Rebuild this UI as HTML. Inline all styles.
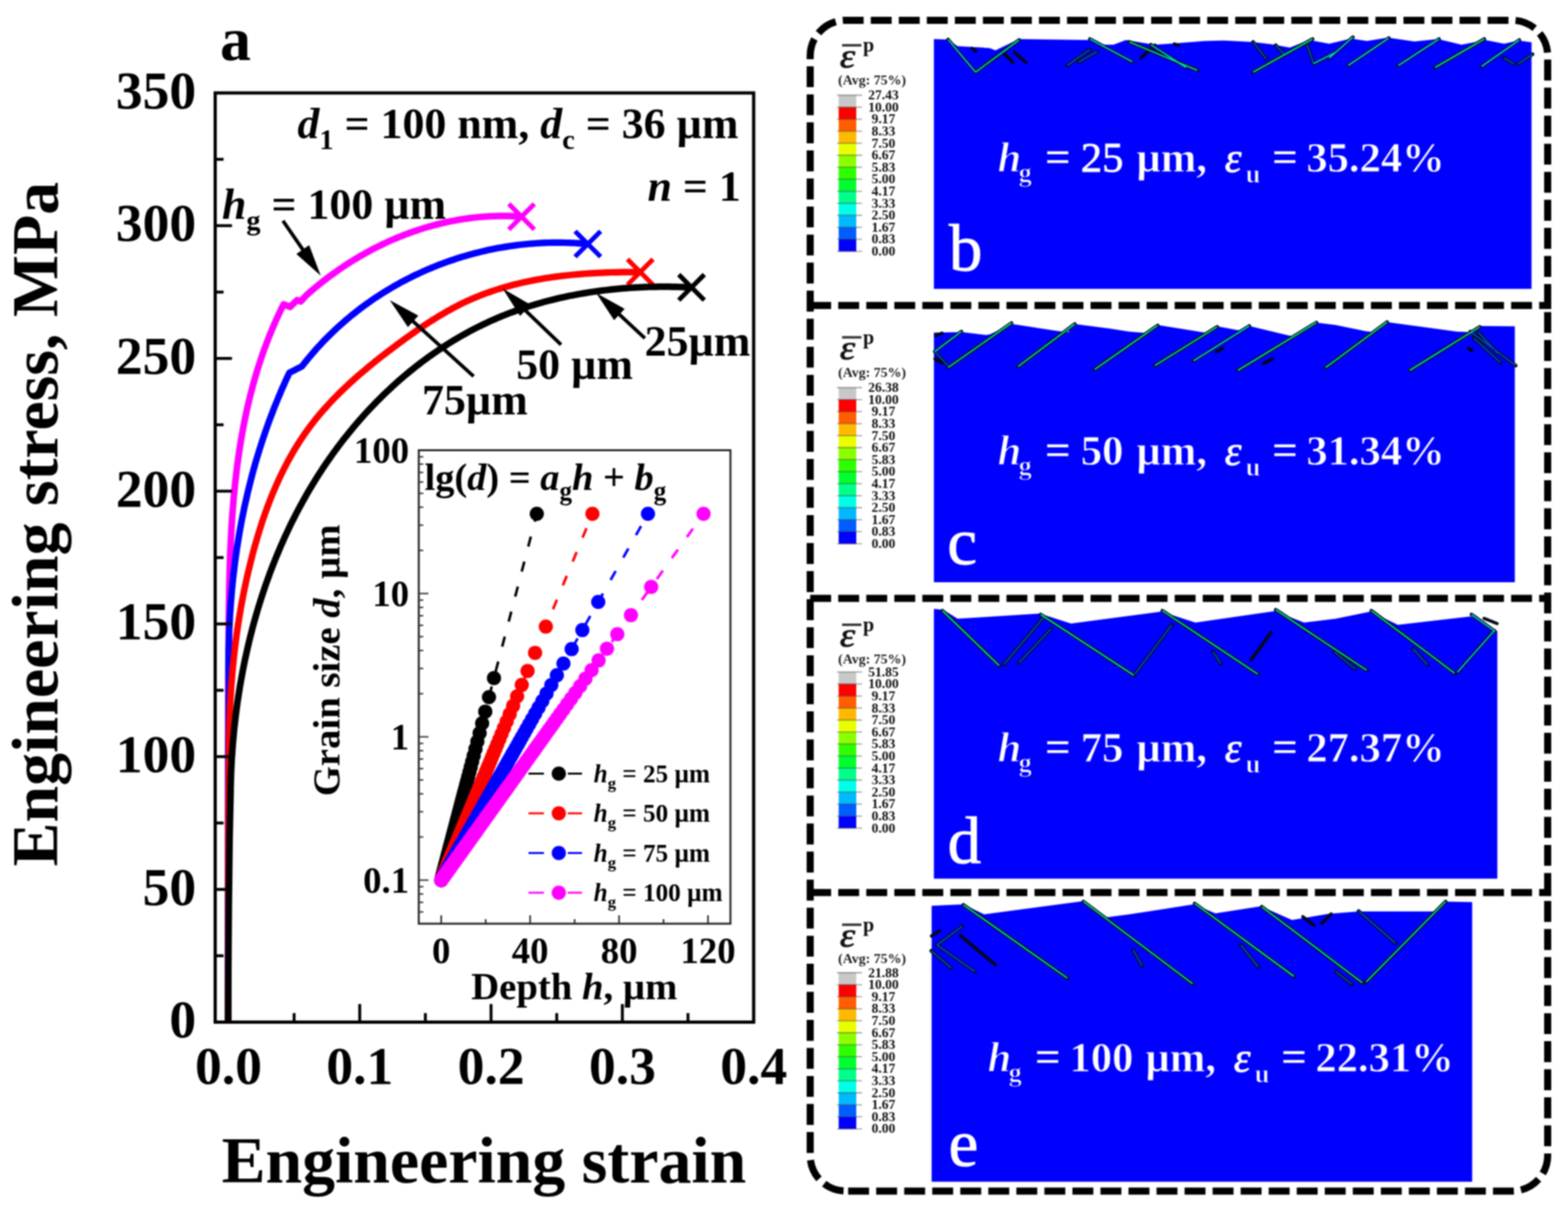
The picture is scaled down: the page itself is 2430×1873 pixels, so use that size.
<!DOCTYPE html>
<html><head><meta charset="utf-8"><title>Figure</title>
<style>html,body{margin:0;padding:0;background:#fff;}svg{display:block;}text{font-family:"Liberation Serif",serif;}</style>
</head><body>
<svg xmlns="http://www.w3.org/2000/svg" width="2430" height="1873" viewBox="0 0 2430 1873">
<rect width="2430" height="1873" fill="#fff"/>
<defs><filter id="soft" color-interpolation-filters="sRGB" filterUnits="userSpaceOnUse" x="0" y="0" width="2430" height="1873"><feGaussianBlur stdDeviation="0.9"/></filter></defs>
<g filter="url(#soft)">
<rect x="-20" y="-20" width="2470" height="1913" fill="#fff"/>
<path d="M353.6,1583.0 L353.6,1200.0 L353.8,1050.0 L354.5,990.0 L354.5,985.1 L354.5,980.1 L354.6,975.1 L354.6,970.2 L354.6,965.2 L354.7,960.3 L354.7,955.3 L354.8,950.3 L354.8,945.3 L354.9,940.3 L354.9,935.3 L355.0,930.4 L355.1,925.4 L355.1,920.4 L355.2,915.4 L355.3,910.4 L355.4,905.4 L355.5,900.3 L355.7,895.3 L355.8,890.3 L355.9,885.3 L356.1,880.3 L356.2,875.3 L356.4,870.3 L356.5,865.2 L356.7,860.2 L356.9,855.2 L357.1,850.2 L357.4,845.2 L357.6,840.1 L357.8,835.1 L358.1,830.1 L358.4,825.1 L358.6,820.0 L358.9,815.0 L359.3,810.0 L359.6,805.0 L359.9,800.0 L360.3,795.0 L360.7,789.9 L361.1,784.9 L361.5,779.9 L361.9,774.9 L362.3,769.9 L362.8,764.9 L363.3,759.9 L363.8,754.9 L364.3,749.9 L364.8,744.9 L365.4,739.9 L366.0,735.0 L366.6,730.0 L367.2,725.0 L367.8,720.0 L368.5,715.1 L369.2,710.1 L369.9,705.1 L370.6,700.2 L371.4,695.2 L372.1,690.3 L372.9,685.3 L373.8,680.4 L374.6,675.5 L375.5,670.6 L376.4,665.7 L377.3,660.7 L378.3,655.8 L379.2,650.9 L380.2,646.1 L381.3,641.2 L382.3,636.3 L383.4,631.4 L384.5,626.6 L385.7,621.7 L386.8,616.9 L388.0,612.0 L389.3,607.2 L390.5,602.4 L391.8,597.6 L393.1,592.8 L394.5,588.0 L395.9,583.2 L397.3,578.4 L398.7,573.6 L400.2,568.9 L401.7,564.1 L403.3,559.4 L404.9,554.7 L406.5,549.9 L408.1,545.2 L409.8,540.5 L411.5,535.9 L413.3,531.2 L415.1,526.5 L416.9,521.9 L418.8,517.2 L420.7,512.6 L422.6,508.0 L424.6,503.4 L426.6,498.8 L428.6,494.2 L430.7,489.6 L432.9,485.1 L435.0,480.5 L437.2,476.0 L439.5,471.5 L449.5,475.5 L460.5,464.8 L466.0,467.0 L474.2,458.0 L478.0,454.7 L481.7,451.4 L485.5,448.1 L489.4,444.9 L493.3,441.7 L497.2,438.6 L501.1,435.5 L505.1,432.4 L509.1,429.4 L513.1,426.4 L517.2,423.5 L521.3,420.6 L525.4,417.7 L529.5,414.9 L533.7,412.1 L537.9,409.3 L542.1,406.6 L546.4,404.0 L550.6,401.4 L554.9,398.8 L559.3,396.3 L563.6,393.8 L568.0,391.3 L572.4,388.9 L576.8,386.6 L581.2,384.3 L585.7,382.0 L590.2,379.8 L594.7,377.6 L599.2,375.5 L603.8,373.4 L608.3,371.4 L612.9,369.5 L617.5,367.5 L622.2,365.7 L626.8,363.8 L631.5,362.1 L636.2,360.3 L640.9,358.7 L645.6,357.1 L650.3,355.5 L655.1,354.0 L659.9,352.5 L664.6,351.1 L669.4,349.8 L674.2,348.5 L679.1,347.2 L683.9,346.0 L688.8,344.9 L693.6,343.8 L698.5,342.8 L703.4,341.9 L708.3,341.0 L713.2,340.1 L718.2,339.3 L723.1,338.6 L728.1,337.9 L733.0,337.3 L738.0,336.8 L743.0,336.3 L747.9,335.9 L752.9,335.5 L757.9,335.2 L763.0,335.0 L768.0,334.8 L773.0,334.7 L778.0,334.6 L783.1,334.6 L788.1,334.7 L793.1,334.9 L798.2,335.1 L803.2,335.4 L808.3,335.7" fill="none" stroke="#ff00ff" stroke-width="10.2" stroke-linejoin="round"/>
<path d="M788.5,315.9 L828.0999999999999,355.5 M788.5,355.5 L828.0999999999999,315.9" stroke="#ff00ff" stroke-width="7.2" fill="none"/>
<path d="M353.6,1583.0 L353.7,1300.0 L354.0,1150.0 L354.6,1060.0 L354.5,1055.0 L354.4,1050.0 L354.3,1044.9 L354.3,1039.9 L354.2,1034.9 L354.2,1029.9 L354.2,1024.8 L354.2,1019.8 L354.3,1014.8 L354.3,1009.8 L354.4,1004.8 L354.5,999.7 L354.7,994.7 L354.8,989.7 L355.0,984.7 L355.1,979.7 L355.3,974.7 L355.6,969.7 L355.8,964.6 L356.1,959.6 L356.3,954.6 L356.6,949.6 L357.0,944.6 L357.3,939.6 L357.7,934.6 L358.1,929.6 L358.5,924.6 L358.9,919.6 L359.3,914.6 L359.8,909.7 L360.3,904.7 L360.8,899.7 L361.3,894.7 L361.9,889.7 L362.5,884.8 L363.1,879.8 L363.7,874.8 L364.3,869.9 L365.0,864.9 L365.7,859.9 L366.4,855.0 L367.1,850.0 L367.9,845.1 L368.7,840.2 L369.5,835.2 L370.3,830.3 L371.1,825.4 L372.0,820.4 L372.9,815.5 L373.8,810.6 L374.7,805.7 L375.7,800.8 L376.7,795.9 L377.7,791.0 L378.7,786.1 L379.8,781.2 L380.9,776.3 L382.0,771.5 L383.1,766.6 L384.2,761.7 L385.4,756.9 L386.6,752.0 L387.8,747.2 L389.1,742.3 L390.3,737.5 L391.6,732.7 L392.9,727.8 L394.3,723.0 L395.6,718.2 L397.0,713.4 L398.4,708.6 L399.9,703.8 L401.4,699.0 L402.8,694.3 L404.4,689.5 L405.9,684.7 L407.5,680.0 L409.1,675.2 L410.7,670.5 L412.3,665.8 L414.0,661.1 L415.7,656.3 L417.4,651.6 L419.1,646.9 L420.9,642.3 L422.7,637.6 L424.5,632.9 L426.4,628.2 L428.3,623.6 L430.2,618.9 L432.1,614.3 L434.1,609.7 L436.0,605.0 L438.0,600.4 L440.1,595.8 L442.1,591.2 L444.2,586.6 L446.4,582.1 L448.5,577.5 L468.0,567.5 L471.1,563.5 L474.3,559.5 L477.5,555.6 L480.8,551.7 L484.0,547.8 L487.4,544.0 L490.7,540.2 L494.1,536.4 L497.6,532.7 L501.0,529.1 L504.6,525.4 L508.1,521.9 L511.7,518.3 L515.3,514.8 L519.0,511.3 L522.6,507.9 L526.4,504.5 L530.1,501.2 L533.9,497.9 L537.7,494.6 L541.6,491.4 L545.4,488.2 L549.4,485.1 L553.3,482.0 L557.3,478.9 L561.3,475.9 L565.3,472.9 L569.4,470.0 L573.5,467.1 L577.6,464.2 L581.7,461.4 L585.9,458.7 L590.1,456.0 L594.3,453.3 L598.6,450.7 L602.9,448.1 L607.2,445.5 L611.5,443.0 L615.9,440.6 L620.2,438.1 L624.6,435.8 L629.1,433.4 L633.5,431.2 L638.0,428.9 L642.5,426.7 L647.0,424.6 L651.5,422.5 L656.1,420.4 L660.6,418.4 L665.2,416.4 L669.9,414.5 L674.5,412.6 L679.1,410.8 L683.8,409.0 L688.5,407.2 L693.2,405.5 L697.9,403.9 L702.7,402.3 L707.4,400.7 L712.2,399.2 L717.0,397.7 L721.8,396.3 L726.6,394.9 L731.4,393.6 L736.3,392.3 L741.1,391.1 L746.0,389.9 L750.9,388.7 L755.8,387.6 L760.7,386.6 L765.6,385.6 L770.5,384.6 L775.4,383.7 L780.4,382.9 L785.3,382.1 L790.3,381.3 L795.3,380.6 L800.3,379.9 L805.2,379.3 L810.2,378.8 L815.2,378.3 L820.2,377.8 L825.3,377.4 L830.3,377.0 L835.3,376.7 L840.3,376.4 L845.4,376.2 L850.4,376.0 L855.4,375.9 L860.5,375.9 L865.5,375.9 L870.6,375.9 L875.6,376.0 L880.7,376.1 L885.7,376.3 L890.8,376.5 L895.8,376.8 L900.9,377.2 L905.9,377.6 L911.0,378.0" fill="none" stroke="#0000ff" stroke-width="10.2" stroke-linejoin="round"/>
<path d="M891.2,358.2 L930.8,397.8 M891.2,397.8 L930.8,358.2" stroke="#0000ff" stroke-width="7.2" fill="none"/>
<path d="M353.6,1583.0 L353.8,1400.0 L354.3,1250.0 L355.0,1160.0 L355.0,1155.0 L355.0,1150.0 L355.1,1145.1 L355.1,1140.1 L355.2,1135.1 L355.3,1130.1 L355.4,1125.1 L355.6,1120.1 L355.7,1115.1 L355.9,1110.1 L356.1,1105.1 L356.3,1100.1 L356.5,1095.1 L356.7,1090.1 L357.0,1085.1 L357.3,1080.2 L357.6,1075.2 L357.9,1070.2 L358.2,1065.2 L358.6,1060.2 L359.0,1055.2 L359.4,1050.2 L359.8,1045.2 L360.2,1040.2 L360.7,1035.2 L361.2,1030.2 L361.7,1025.2 L362.2,1020.3 L362.7,1015.3 L363.3,1010.3 L363.9,1005.3 L364.5,1000.3 L365.1,995.4 L365.8,990.4 L366.4,985.4 L367.1,980.5 L367.8,975.5 L368.6,970.5 L369.3,965.6 L370.1,960.6 L370.9,955.7 L371.7,950.7 L372.6,945.8 L373.4,940.8 L374.3,935.9 L375.2,931.0 L376.2,926.0 L377.1,921.1 L378.1,916.2 L379.1,911.3 L380.2,906.4 L381.2,901.4 L382.3,896.5 L383.4,891.6 L384.5,886.8 L385.7,881.9 L386.9,877.0 L388.1,872.1 L389.3,867.2 L390.5,862.4 L391.8,857.5 L393.1,852.7 L394.4,847.8 L395.8,843.0 L397.2,838.2 L398.6,833.3 L400.0,828.5 L401.5,823.7 L403.0,819.0 L404.5,814.2 L406.0,809.4 L407.6,804.7 L409.3,799.9 L410.9,795.2 L412.6,790.5 L414.3,785.8 L416.1,781.1 L417.8,776.5 L419.7,771.8 L421.5,767.2 L423.4,762.6 L425.4,758.0 L427.3,753.5 L429.4,748.9 L431.4,744.4 L433.5,739.9 L435.6,735.4 L437.8,730.9 L440.0,726.5 L442.3,722.1 L444.6,717.7 L446.9,713.4 L449.3,709.0 L451.7,704.7 L454.2,700.4 L456.7,696.2 L459.3,692.0 L461.9,687.8 L464.6,683.6 L467.3,679.5 L470.0,675.4 L472.8,671.3 L475.7,667.3 L478.6,663.3 L481.6,659.3 L484.6,655.4 L487.6,651.5 L490.7,647.6 L493.9,643.8 L497.1,640.0 L500.4,636.2 L503.7,632.5 L507.0,628.8 L510.4,625.1 L513.8,621.4 L517.3,617.8 L520.8,614.2 L524.3,610.7 L527.9,607.1 L531.5,603.6 L535.1,600.2 L538.8,596.7 L542.5,593.3 L546.3,589.9 L550.0,586.5 L553.8,583.2 L557.6,579.9 L561.5,576.6 L565.4,573.3 L569.2,570.1 L573.2,566.8 L577.1,563.6 L581.0,560.4 L585.0,557.3 L589.0,554.1 L593.0,551.0 L597.0,547.9 L601.0,544.8 L605.0,541.8 L609.1,538.7 L613.1,535.7 L617.2,532.7 L621.3,529.7 L625.3,526.7 L629.4,523.7 L633.5,520.8 L637.6,517.9 L641.7,515.0 L645.8,512.1 L649.9,509.3 L654.1,506.5 L658.2,503.7 L662.4,501.0 L666.6,498.3 L670.8,495.6 L675.0,493.0 L679.2,490.4 L683.5,487.8 L687.8,485.3 L692.0,482.8 L696.4,480.4 L700.7,478.0 L705.1,475.7 L709.4,473.4 L713.9,471.2 L718.3,469.0 L722.8,466.9 L727.3,464.9 L731.8,462.9 L736.3,461.0 L740.9,459.1 L745.5,457.3 L750.1,455.5 L754.8,453.8 L759.5,452.1 L764.2,450.5 L768.9,449.0 L773.6,447.5 L778.4,446.1 L783.2,444.7 L788.0,443.3 L792.8,442.0 L797.6,440.8 L802.5,439.6 L807.4,438.4 L812.3,437.3 L817.2,436.3 L822.1,435.2 L827.0,434.3 L831.9,433.3 L836.9,432.5 L841.9,431.6 L846.8,430.8 L851.8,430.0 L856.8,429.3 L861.8,428.6 L866.8,428.0 L871.8,427.4 L876.9,426.8 L881.9,426.2 L886.9,425.7 L891.9,425.2 L897.0,424.8 L902.0,424.4 L907.0,424.0 L912.1,423.7 L917.1,423.3 L922.1,423.1 L927.2,422.8 L932.2,422.6 L937.2,422.4 L942.2,422.2 L947.3,422.0 L952.3,421.9 L957.3,421.8 L962.3,421.7 L967.2,421.6 L972.2,421.6 L977.2,421.6 L982.1,421.6 L987.1,421.6 L992.0,421.6" fill="none" stroke="#ff0000" stroke-width="10.2" stroke-linejoin="round"/>
<path d="M972.4000000000001,401.59999999999997 L1012.0,441.2 M972.4000000000001,441.2 L1012.0,401.59999999999997" stroke="#ff0000" stroke-width="7.2" fill="none"/>
<path d="M353.6,1583.0 L353.9,1500.0 L354.6,1400.0 L355.8,1300.0 L357.3,1230.0 L357.4,1225.1 L357.4,1220.1 L357.6,1215.2 L357.7,1210.2 L357.8,1205.3 L358.0,1200.3 L358.2,1195.4 L358.4,1190.4 L358.7,1185.5 L358.9,1180.5 L359.2,1175.5 L359.5,1170.6 L359.9,1165.6 L360.2,1160.6 L360.6,1155.7 L361.0,1150.7 L361.4,1145.7 L361.9,1140.8 L362.3,1135.8 L362.8,1130.8 L363.3,1125.8 L363.9,1120.9 L364.4,1115.9 L365.0,1110.9 L365.6,1106.0 L366.3,1101.0 L366.9,1096.0 L367.6,1091.1 L368.3,1086.1 L369.1,1081.1 L369.8,1076.2 L370.6,1071.2 L371.4,1066.3 L372.2,1061.3 L373.1,1056.4 L374.0,1051.4 L374.9,1046.5 L375.8,1041.5 L376.7,1036.6 L377.7,1031.7 L378.7,1026.7 L379.7,1021.8 L380.8,1016.9 L381.9,1012.0 L383.0,1007.1 L384.1,1002.2 L385.2,997.3 L386.4,992.4 L387.6,987.5 L388.8,982.7 L390.1,977.8 L391.3,972.9 L392.6,968.1 L394.0,963.2 L395.3,958.4 L396.7,953.5 L398.1,948.7 L399.5,943.9 L401.0,939.1 L402.5,934.3 L404.0,929.5 L405.5,924.7 L407.1,919.9 L408.7,915.2 L410.3,910.4 L411.9,905.7 L413.6,900.9 L415.3,896.2 L417.0,891.5 L418.7,886.8 L420.5,882.1 L422.3,877.4 L424.1,872.7 L426.0,868.1 L427.9,863.4 L429.8,858.8 L431.7,854.2 L433.7,849.5 L435.6,844.9 L437.7,840.4 L439.7,835.8 L441.8,831.2 L443.9,826.7 L446.0,822.1 L448.1,817.6 L450.3,813.1 L452.5,808.6 L454.8,804.1 L457.0,799.7 L459.3,795.2 L461.6,790.8 L464.0,786.4 L466.4,782.0 L468.8,777.6 L471.2,773.2 L473.6,768.9 L476.1,764.5 L478.7,760.2 L481.2,755.9 L483.8,751.6 L486.4,747.3 L489.0,743.1 L491.7,738.8 L494.4,734.6 L497.1,730.4 L499.8,726.2 L502.6,722.1 L505.4,717.9 L508.2,713.8 L511.1,709.7 L514.0,705.6 L516.9,701.5 L519.9,697.5 L522.8,693.5 L525.8,689.5 L528.9,685.5 L531.9,681.5 L535.0,677.6 L538.2,673.7 L541.3,669.8 L544.5,665.9 L547.7,662.0 L550.9,658.2 L554.2,654.4 L557.5,650.6 L560.8,646.9 L564.1,643.1 L567.5,639.4 L570.9,635.8 L574.3,632.1 L577.8,628.5 L581.3,624.9 L584.8,621.3 L588.3,617.8 L591.8,614.2 L595.4,610.8 L599.0,607.3 L602.7,603.9 L606.3,600.5 L610.0,597.1 L613.7,593.7 L617.4,590.4 L621.2,587.1 L625.0,583.9 L628.8,580.7 L632.6,577.5 L636.5,574.3 L640.4,571.2 L644.3,568.1 L648.2,565.1 L652.1,562.0 L656.1,559.0 L660.1,556.1 L664.1,553.1 L668.2,550.3 L672.3,547.4 L676.4,544.6 L680.5,541.8 L684.6,539.1 L688.8,536.3 L693.0,533.7 L697.2,531.0 L701.4,528.4 L705.6,525.9 L709.9,523.3 L714.2,520.9 L718.5,518.4 L722.9,516.0 L727.2,513.6 L731.6,511.3 L736.0,509.0 L740.4,506.8 L744.9,504.6 L749.3,502.4 L753.8,500.3 L758.3,498.2 L762.8,496.2 L767.4,494.2 L771.9,492.2 L776.5,490.3 L781.1,488.4 L785.8,486.6 L790.4,484.8 L795.1,483.1 L799.7,481.4 L804.4,479.7 L809.1,478.1 L813.9,476.5 L818.6,475.0 L823.4,473.5 L828.1,472.1 L832.9,470.6 L837.7,469.3 L842.5,467.9 L847.4,466.6 L852.2,465.4 L857.1,464.2 L861.9,463.0 L866.8,461.8 L871.7,460.7 L876.6,459.7 L881.5,458.6 L886.4,457.7 L891.4,456.7 L896.3,455.8 L901.2,454.9 L906.2,454.1 L911.2,453.3 L916.1,452.5 L921.1,451.8 L926.1,451.1 L931.1,450.4 L936.1,449.8 L941.1,449.2 L946.1,448.6 L951.1,448.1 L956.1,447.6 L961.2,447.1 L966.2,446.7 L971.2,446.3 L976.2,446.0 L981.3,445.7 L986.3,445.4 L991.3,445.1 L996.4,444.9 L1001.4,444.7 L1006.4,444.5 L1011.5,444.4 L1016.5,444.3 L1021.5,444.2 L1026.6,444.2 L1031.6,444.2 L1036.6,444.2 L1041.6,444.3 L1046.7,444.3 L1051.7,444.5 L1056.7,444.6 L1061.7,444.8 L1066.7,445.0 L1071.7,445.2" fill="none" stroke="#000000" stroke-width="10.2" stroke-linejoin="round"/>
<path d="M1051.9,425.4 L1091.5,465.0 M1051.9,465.0 L1091.5,425.4" stroke="#000000" stroke-width="7.2" fill="none"/>
<rect x="333.5" y="144.0" width="834.5" height="1439.5" fill="none" stroke="#000" stroke-width="5"/>
<line x1="333.5" y1="1480.7" x2="346.5" y2="1480.7" stroke="#000" stroke-width="4.5"/>
<line x1="333.5" y1="1377.9" x2="359.5" y2="1377.9" stroke="#000" stroke-width="4.5"/>
<line x1="333.5" y1="1275.0" x2="346.5" y2="1275.0" stroke="#000" stroke-width="4.5"/>
<line x1="333.5" y1="1172.2" x2="359.5" y2="1172.2" stroke="#000" stroke-width="4.5"/>
<line x1="333.5" y1="1069.4" x2="346.5" y2="1069.4" stroke="#000" stroke-width="4.5"/>
<line x1="333.5" y1="966.6" x2="359.5" y2="966.6" stroke="#000" stroke-width="4.5"/>
<line x1="333.5" y1="863.8" x2="346.5" y2="863.8" stroke="#000" stroke-width="4.5"/>
<line x1="333.5" y1="760.9" x2="359.5" y2="760.9" stroke="#000" stroke-width="4.5"/>
<line x1="333.5" y1="658.1" x2="346.5" y2="658.1" stroke="#000" stroke-width="4.5"/>
<line x1="333.5" y1="555.3" x2="359.5" y2="555.3" stroke="#000" stroke-width="4.5"/>
<line x1="333.5" y1="452.5" x2="346.5" y2="452.5" stroke="#000" stroke-width="4.5"/>
<line x1="333.5" y1="349.6" x2="359.5" y2="349.6" stroke="#000" stroke-width="4.5"/>
<line x1="333.5" y1="246.8" x2="346.5" y2="246.8" stroke="#000" stroke-width="4.5"/>
<line x1="455.8" y1="1583.5" x2="455.8" y2="1569.5" stroke="#000" stroke-width="4.5"/>
<line x1="557.5" y1="1583.5" x2="557.5" y2="1555.5" stroke="#000" stroke-width="4.5"/>
<line x1="659.2" y1="1583.5" x2="659.2" y2="1569.5" stroke="#000" stroke-width="4.5"/>
<line x1="761.0" y1="1583.5" x2="761.0" y2="1555.5" stroke="#000" stroke-width="4.5"/>
<line x1="862.8" y1="1583.5" x2="862.8" y2="1569.5" stroke="#000" stroke-width="4.5"/>
<line x1="964.5" y1="1583.5" x2="964.5" y2="1555.5" stroke="#000" stroke-width="4.5"/>
<line x1="1066.2" y1="1583.5" x2="1066.2" y2="1569.5" stroke="#000" stroke-width="4.5"/>
<text x="304" y="1607.3" font-size="83" font-weight="bold" font-style="normal" text-anchor="end" fill="#000" >0</text>
<text x="304" y="1401.7" font-size="83" font-weight="bold" font-style="normal" text-anchor="end" fill="#000" >50</text>
<text x="304" y="1196.0" font-size="83" font-weight="bold" font-style="normal" text-anchor="end" fill="#000" >100</text>
<text x="304" y="990.4" font-size="83" font-weight="bold" font-style="normal" text-anchor="end" fill="#000" >150</text>
<text x="304" y="784.7" font-size="83" font-weight="bold" font-style="normal" text-anchor="end" fill="#000" >200</text>
<text x="304" y="579.1" font-size="83" font-weight="bold" font-style="normal" text-anchor="end" fill="#000" >250</text>
<text x="304" y="373.4" font-size="83" font-weight="bold" font-style="normal" text-anchor="end" fill="#000" >300</text>
<text x="304" y="167.8" font-size="83" font-weight="bold" font-style="normal" text-anchor="end" fill="#000" >350</text>
<text x="354.0" y="1679" font-size="83" font-weight="bold" font-style="normal" text-anchor="middle" fill="#000" >0.0</text>
<text x="557.5" y="1679" font-size="83" font-weight="bold" font-style="normal" text-anchor="middle" fill="#000" >0.1</text>
<text x="761.0" y="1679" font-size="83" font-weight="bold" font-style="normal" text-anchor="middle" fill="#000" >0.2</text>
<text x="964.5" y="1679" font-size="83" font-weight="bold" font-style="normal" text-anchor="middle" fill="#000" >0.3</text>
<text x="1168.0" y="1679" font-size="83" font-weight="bold" font-style="normal" text-anchor="middle" fill="#000" >0.4</text>
<text x="750" y="1832" font-size="102" font-weight="bold" font-style="normal" text-anchor="middle" fill="#000" >Engineering strain</text>
<text transform="translate(89,812) rotate(-90)" text-anchor="middle" font-size="102" font-weight="bold">Engineering stress, MPa</text>
<text x="341" y="93" font-size="96" font-weight="bold" font-style="normal" text-anchor="start" fill="#000" >a</text>
<text x="461" y="213.5" font-size="68" font-weight="bold" font-style="normal" text-anchor="start" fill="#000" ><tspan font-style="italic">d</tspan><tspan font-size="44" dy="17.5">1</tspan><tspan dy="-17.5">​</tspan> = 100 nm, <tspan font-style="italic">d</tspan><tspan font-size="44" dy="17.5">c</tspan><tspan dy="-17.5">​</tspan> = 36 µm</text>
<text x="1148" y="311" font-size="68" font-weight="bold" font-style="normal" text-anchor="end" fill="#000" ><tspan font-style="italic">n</tspan> = 1</text>
<text x="344" y="338.5" font-size="68" font-weight="bold" font-style="normal" text-anchor="start" fill="#000" ><tspan font-style="italic">h</tspan><tspan font-size="44" dy="17.5">g</tspan><tspan dy="-17.5">​</tspan> = 100 µm</text>
<text x="654" y="641.5" font-size="68" font-weight="bold" font-style="normal" text-anchor="start" fill="#000" >75µm</text>
<text x="800" y="587" font-size="68" font-weight="bold" font-style="normal" text-anchor="start" fill="#000" >50 µm</text>
<text x="999" y="551" font-size="68" font-weight="bold" font-style="normal" text-anchor="start" fill="#000" >25µm</text>
<line x1="438.5" y1="342.0" x2="471.5" y2="389.9" stroke="#000" stroke-width="5.5"/>
<polygon points="497.0,427.0 459.3,393.4 479.1,379.8" fill="#000"/>
<line x1="734.0" y1="583.0" x2="637.3" y2="495.2" stroke="#000" stroke-width="5.5"/>
<polygon points="604.0,465.0 648.3,489.0 632.2,506.8" fill="#000"/>
<line x1="869.5" y1="534.0" x2="811.4" y2="478.2" stroke="#000" stroke-width="5.5"/>
<polygon points="779.0,447.0 822.6,472.3 806.0,489.6" fill="#000"/>
<line x1="999.4" y1="524.0" x2="957.0" y2="484.6" stroke="#000" stroke-width="5.5"/>
<polygon points="924.0,454.0 968.1,478.5 951.7,496.1" fill="#000"/>
<rect x="649.0" y="697.5" width="483.0" height="733.5" fill="#fff" stroke="#222" stroke-width="3"/>
<line x1="649.0" y1="1412.8" x2="656.0" y2="1412.8" stroke="#333" stroke-width="2.2"/>
<line x1="649.0" y1="1397.9" x2="656.0" y2="1397.9" stroke="#333" stroke-width="2.2"/>
<line x1="649.0" y1="1385.0" x2="656.0" y2="1385.0" stroke="#333" stroke-width="2.2"/>
<line x1="649.0" y1="1373.7" x2="656.0" y2="1373.7" stroke="#333" stroke-width="2.2"/>
<line x1="649.0" y1="1363.5" x2="664.0" y2="1363.5" stroke="#333" stroke-width="2.2"/>
<line x1="649.0" y1="1296.7" x2="656.0" y2="1296.7" stroke="#333" stroke-width="2.2"/>
<line x1="649.0" y1="1257.6" x2="656.0" y2="1257.6" stroke="#333" stroke-width="2.2"/>
<line x1="649.0" y1="1229.8" x2="656.0" y2="1229.8" stroke="#333" stroke-width="2.2"/>
<line x1="649.0" y1="1208.3" x2="656.0" y2="1208.3" stroke="#333" stroke-width="2.2"/>
<line x1="649.0" y1="1190.8" x2="656.0" y2="1190.8" stroke="#333" stroke-width="2.2"/>
<line x1="649.0" y1="1175.9" x2="656.0" y2="1175.9" stroke="#333" stroke-width="2.2"/>
<line x1="649.0" y1="1163.0" x2="656.0" y2="1163.0" stroke="#333" stroke-width="2.2"/>
<line x1="649.0" y1="1151.7" x2="656.0" y2="1151.7" stroke="#333" stroke-width="2.2"/>
<line x1="649.0" y1="1141.5" x2="664.0" y2="1141.5" stroke="#333" stroke-width="2.2"/>
<line x1="649.0" y1="1074.7" x2="656.0" y2="1074.7" stroke="#333" stroke-width="2.2"/>
<line x1="649.0" y1="1035.6" x2="656.0" y2="1035.6" stroke="#333" stroke-width="2.2"/>
<line x1="649.0" y1="1007.8" x2="656.0" y2="1007.8" stroke="#333" stroke-width="2.2"/>
<line x1="649.0" y1="986.3" x2="656.0" y2="986.3" stroke="#333" stroke-width="2.2"/>
<line x1="649.0" y1="968.8" x2="656.0" y2="968.8" stroke="#333" stroke-width="2.2"/>
<line x1="649.0" y1="953.9" x2="656.0" y2="953.9" stroke="#333" stroke-width="2.2"/>
<line x1="649.0" y1="941.0" x2="656.0" y2="941.0" stroke="#333" stroke-width="2.2"/>
<line x1="649.0" y1="929.7" x2="656.0" y2="929.7" stroke="#333" stroke-width="2.2"/>
<line x1="649.0" y1="919.5" x2="664.0" y2="919.5" stroke="#333" stroke-width="2.2"/>
<line x1="649.0" y1="852.7" x2="656.0" y2="852.7" stroke="#333" stroke-width="2.2"/>
<line x1="649.0" y1="813.6" x2="656.0" y2="813.6" stroke="#333" stroke-width="2.2"/>
<line x1="649.0" y1="785.8" x2="656.0" y2="785.8" stroke="#333" stroke-width="2.2"/>
<line x1="649.0" y1="764.3" x2="656.0" y2="764.3" stroke="#333" stroke-width="2.2"/>
<line x1="649.0" y1="746.8" x2="656.0" y2="746.8" stroke="#333" stroke-width="2.2"/>
<line x1="649.0" y1="731.9" x2="656.0" y2="731.9" stroke="#333" stroke-width="2.2"/>
<line x1="649.0" y1="719.0" x2="656.0" y2="719.0" stroke="#333" stroke-width="2.2"/>
<line x1="649.0" y1="707.7" x2="656.0" y2="707.7" stroke="#333" stroke-width="2.2"/>
<line x1="683.8" y1="1431.0" x2="683.8" y2="1418.0" stroke="#222" stroke-width="2.4"/>
<line x1="752.7" y1="1431.0" x2="752.7" y2="1424.0" stroke="#222" stroke-width="2.4"/>
<line x1="821.6" y1="1431.0" x2="821.6" y2="1418.0" stroke="#222" stroke-width="2.4"/>
<line x1="890.5" y1="1431.0" x2="890.5" y2="1424.0" stroke="#222" stroke-width="2.4"/>
<line x1="959.4" y1="1431.0" x2="959.4" y2="1418.0" stroke="#222" stroke-width="2.4"/>
<line x1="1028.3" y1="1431.0" x2="1028.3" y2="1424.0" stroke="#222" stroke-width="2.4"/>
<line x1="1097.2" y1="1431.0" x2="1097.2" y2="1418.0" stroke="#222" stroke-width="2.4"/>
<path d="M683.8,1363.5 L683.9,1363.3 L684.2,1362.0 L684.6,1360.6 L684.9,1359.2 L685.3,1357.9 L685.6,1356.4 L686.0,1355.0 L686.4,1353.6 L686.8,1352.1 L687.2,1350.6 L687.6,1349.1 L688.0,1347.5 L688.4,1346.0 L688.8,1344.4 L689.2,1342.7 L689.7,1341.1 L690.1,1339.4 L690.5,1337.7 L691.0,1336.0 L691.5,1334.2 L691.9,1332.4 L692.4,1330.5 L692.9,1328.7 L693.4,1326.7 L693.9,1324.8 L694.4,1322.8 L695.0,1320.8 L695.5,1318.7 L696.1,1316.6 L696.6,1314.4 L697.2,1312.2 L697.8,1309.9 L698.4,1307.6 L699.0,1305.2 L699.7,1302.7 L700.3,1300.2 L701.0,1297.6 L701.7,1295.0 L702.4,1292.3 L703.1,1289.5 L703.9,1286.6 L704.7,1283.6 L705.5,1280.5 L706.3,1277.4 L707.1,1274.1 L708.0,1270.7 L708.9,1267.2 L709.9,1263.5 L710.9,1259.7 L711.9,1255.8 L713.0,1251.6 L714.1,1247.3 L715.3,1242.8 L716.5,1238.1 L717.8,1233.1 L719.2,1227.9 L720.7,1222.3 L722.2,1216.4 L723.8,1210.2 L725.6,1203.5 L727.5,1196.2 L729.5,1188.4 L731.7,1180.0 L734.1,1170.7 L736.8,1160.4 L739.8,1148.8 L743.3,1135.7 L747.2,1120.5 L752.0,1102.4 L757.8,1080.0 L765.5,1050.5 L831.9,796.0" fill="none" stroke="#000000" stroke-width="4" stroke-dasharray="16 24" stroke-dashoffset="-14"/>
<g fill="#000000"><circle cx="683.8" cy="1363.5" r="11"/><circle cx="683.9" cy="1363.3" r="11"/><circle cx="684.2" cy="1362.0" r="11"/><circle cx="684.6" cy="1360.6" r="11"/><circle cx="684.9" cy="1359.2" r="11"/><circle cx="685.3" cy="1357.9" r="11"/><circle cx="685.6" cy="1356.4" r="11"/><circle cx="686.0" cy="1355.0" r="11"/><circle cx="686.4" cy="1353.6" r="11"/><circle cx="686.8" cy="1352.1" r="11"/><circle cx="687.2" cy="1350.6" r="11"/><circle cx="687.6" cy="1349.1" r="11"/><circle cx="688.0" cy="1347.5" r="11"/><circle cx="688.4" cy="1346.0" r="11"/><circle cx="688.8" cy="1344.4" r="11"/><circle cx="689.2" cy="1342.7" r="11"/><circle cx="689.7" cy="1341.1" r="11"/><circle cx="690.1" cy="1339.4" r="11"/><circle cx="690.5" cy="1337.7" r="11"/><circle cx="691.0" cy="1336.0" r="11"/><circle cx="691.5" cy="1334.2" r="11"/><circle cx="691.9" cy="1332.4" r="11"/><circle cx="692.4" cy="1330.5" r="11"/><circle cx="692.9" cy="1328.7" r="11"/><circle cx="693.4" cy="1326.7" r="11"/><circle cx="693.9" cy="1324.8" r="11"/><circle cx="694.4" cy="1322.8" r="11"/><circle cx="695.0" cy="1320.8" r="11"/><circle cx="695.5" cy="1318.7" r="11"/><circle cx="696.1" cy="1316.6" r="11"/><circle cx="696.6" cy="1314.4" r="11"/><circle cx="697.2" cy="1312.2" r="11"/><circle cx="697.8" cy="1309.9" r="11"/><circle cx="698.4" cy="1307.6" r="11"/><circle cx="699.0" cy="1305.2" r="11"/><circle cx="699.7" cy="1302.7" r="11"/><circle cx="700.3" cy="1300.2" r="11"/><circle cx="701.0" cy="1297.6" r="11"/><circle cx="701.7" cy="1295.0" r="11"/><circle cx="702.4" cy="1292.3" r="11"/><circle cx="703.1" cy="1289.5" r="11"/><circle cx="703.9" cy="1286.6" r="11"/><circle cx="704.7" cy="1283.6" r="11"/><circle cx="705.5" cy="1280.5" r="11"/><circle cx="706.3" cy="1277.4" r="11"/><circle cx="707.1" cy="1274.1" r="11"/><circle cx="708.0" cy="1270.7" r="11"/><circle cx="708.9" cy="1267.2" r="11"/><circle cx="709.9" cy="1263.5" r="11"/><circle cx="710.9" cy="1259.7" r="11"/><circle cx="711.9" cy="1255.8" r="11"/><circle cx="713.0" cy="1251.6" r="11"/><circle cx="714.1" cy="1247.3" r="11"/><circle cx="715.3" cy="1242.8" r="11"/><circle cx="716.5" cy="1238.1" r="11"/><circle cx="717.8" cy="1233.1" r="11"/><circle cx="719.2" cy="1227.9" r="11"/><circle cx="720.7" cy="1222.3" r="11"/><circle cx="722.2" cy="1216.4" r="11"/><circle cx="723.8" cy="1210.2" r="11"/><circle cx="725.6" cy="1203.5" r="11"/><circle cx="727.5" cy="1196.2" r="11"/><circle cx="729.5" cy="1188.4" r="11"/><circle cx="731.7" cy="1180.0" r="11"/><circle cx="734.1" cy="1170.7" r="11"/><circle cx="736.8" cy="1160.4" r="11"/><circle cx="739.8" cy="1148.8" r="11"/><circle cx="743.3" cy="1135.7" r="11"/><circle cx="747.2" cy="1120.5" r="11"/><circle cx="752.0" cy="1102.4" r="11"/><circle cx="757.8" cy="1080.0" r="11"/><circle cx="765.5" cy="1050.5" r="11"/><circle cx="831.9" cy="796.0" r="11"/></g>
<path d="M683.8,1363.5 L684.0,1363.1 L684.3,1362.3 L684.7,1361.4 L685.0,1360.6 L685.4,1359.7 L685.7,1358.8 L686.1,1357.9 L686.5,1357.0 L686.8,1356.2 L687.2,1355.2 L687.6,1354.3 L688.0,1353.4 L688.3,1352.5 L688.7,1351.5 L689.1,1350.6 L689.5,1349.6 L689.9,1348.7 L690.3,1347.7 L690.7,1346.7 L691.1,1345.7 L691.6,1344.7 L692.0,1343.7 L692.4,1342.6 L692.8,1341.6 L693.3,1340.5 L693.7,1339.5 L694.2,1338.4 L694.6,1337.3 L695.1,1336.2 L695.5,1335.1 L696.0,1334.0 L696.5,1332.8 L696.9,1331.7 L697.4,1330.5 L697.9,1329.3 L698.4,1328.1 L698.9,1326.9 L699.4,1325.7 L699.9,1324.4 L700.4,1323.2 L701.0,1321.9 L701.5,1320.6 L702.0,1319.3 L702.6,1318.0 L703.1,1316.6 L703.7,1315.3 L704.3,1313.9 L704.9,1312.5 L705.5,1311.0 L706.1,1309.6 L706.7,1308.1 L707.3,1306.6 L707.9,1305.1 L708.5,1303.6 L709.2,1302.0 L709.8,1300.4 L710.5,1298.8 L711.2,1297.1 L711.9,1295.5 L712.6,1293.8 L713.3,1292.0 L714.0,1290.3 L714.8,1288.5 L715.5,1286.6 L716.3,1284.8 L717.1,1282.8 L717.9,1280.9 L718.7,1278.9 L719.6,1276.9 L720.4,1274.8 L721.3,1272.7 L722.2,1270.5 L723.1,1268.3 L724.0,1266.1 L725.0,1263.7 L726.0,1261.4 L727.0,1258.9 L728.0,1256.4 L729.1,1253.8 L730.2,1251.2 L731.3,1248.5 L732.4,1245.7 L733.6,1242.8 L734.8,1239.9 L736.1,1236.8 L737.4,1233.7 L738.7,1230.4 L740.1,1227.0 L741.6,1223.5 L743.1,1219.9 L744.6,1216.1 L746.3,1212.2 L748.0,1208.1 L749.7,1203.8 L751.6,1199.3 L753.5,1194.6 L755.5,1189.7 L757.7,1184.5 L760.0,1179.0 L762.4,1173.1 L764.9,1166.9 L767.7,1160.3 L770.6,1153.2 L773.8,1145.5 L777.3,1137.1 L781.0,1127.9 L785.2,1117.8 L789.9,1106.4 L795.2,1093.6 L801.4,1078.7 L808.6,1061.1 L817.6,1039.5 L829.2,1011.4 L845.9,970.7 L918.1,796.0" fill="none" stroke="#ff0000" stroke-width="4" stroke-dasharray="16 24" stroke-dashoffset="-14"/>
<g fill="#ff0000"><circle cx="683.8" cy="1363.5" r="11"/><circle cx="684.0" cy="1363.1" r="11"/><circle cx="684.3" cy="1362.3" r="11"/><circle cx="684.7" cy="1361.4" r="11"/><circle cx="685.0" cy="1360.6" r="11"/><circle cx="685.4" cy="1359.7" r="11"/><circle cx="685.7" cy="1358.8" r="11"/><circle cx="686.1" cy="1357.9" r="11"/><circle cx="686.5" cy="1357.0" r="11"/><circle cx="686.8" cy="1356.2" r="11"/><circle cx="687.2" cy="1355.2" r="11"/><circle cx="687.6" cy="1354.3" r="11"/><circle cx="688.0" cy="1353.4" r="11"/><circle cx="688.3" cy="1352.5" r="11"/><circle cx="688.7" cy="1351.5" r="11"/><circle cx="689.1" cy="1350.6" r="11"/><circle cx="689.5" cy="1349.6" r="11"/><circle cx="689.9" cy="1348.7" r="11"/><circle cx="690.3" cy="1347.7" r="11"/><circle cx="690.7" cy="1346.7" r="11"/><circle cx="691.1" cy="1345.7" r="11"/><circle cx="691.6" cy="1344.7" r="11"/><circle cx="692.0" cy="1343.7" r="11"/><circle cx="692.4" cy="1342.6" r="11"/><circle cx="692.8" cy="1341.6" r="11"/><circle cx="693.3" cy="1340.5" r="11"/><circle cx="693.7" cy="1339.5" r="11"/><circle cx="694.2" cy="1338.4" r="11"/><circle cx="694.6" cy="1337.3" r="11"/><circle cx="695.1" cy="1336.2" r="11"/><circle cx="695.5" cy="1335.1" r="11"/><circle cx="696.0" cy="1334.0" r="11"/><circle cx="696.5" cy="1332.8" r="11"/><circle cx="696.9" cy="1331.7" r="11"/><circle cx="697.4" cy="1330.5" r="11"/><circle cx="697.9" cy="1329.3" r="11"/><circle cx="698.4" cy="1328.1" r="11"/><circle cx="698.9" cy="1326.9" r="11"/><circle cx="699.4" cy="1325.7" r="11"/><circle cx="699.9" cy="1324.4" r="11"/><circle cx="700.4" cy="1323.2" r="11"/><circle cx="701.0" cy="1321.9" r="11"/><circle cx="701.5" cy="1320.6" r="11"/><circle cx="702.0" cy="1319.3" r="11"/><circle cx="702.6" cy="1318.0" r="11"/><circle cx="703.1" cy="1316.6" r="11"/><circle cx="703.7" cy="1315.3" r="11"/><circle cx="704.3" cy="1313.9" r="11"/><circle cx="704.9" cy="1312.5" r="11"/><circle cx="705.5" cy="1311.0" r="11"/><circle cx="706.1" cy="1309.6" r="11"/><circle cx="706.7" cy="1308.1" r="11"/><circle cx="707.3" cy="1306.6" r="11"/><circle cx="707.9" cy="1305.1" r="11"/><circle cx="708.5" cy="1303.6" r="11"/><circle cx="709.2" cy="1302.0" r="11"/><circle cx="709.8" cy="1300.4" r="11"/><circle cx="710.5" cy="1298.8" r="11"/><circle cx="711.2" cy="1297.1" r="11"/><circle cx="711.9" cy="1295.5" r="11"/><circle cx="712.6" cy="1293.8" r="11"/><circle cx="713.3" cy="1292.0" r="11"/><circle cx="714.0" cy="1290.3" r="11"/><circle cx="714.8" cy="1288.5" r="11"/><circle cx="715.5" cy="1286.6" r="11"/><circle cx="716.3" cy="1284.8" r="11"/><circle cx="717.1" cy="1282.8" r="11"/><circle cx="717.9" cy="1280.9" r="11"/><circle cx="718.7" cy="1278.9" r="11"/><circle cx="719.6" cy="1276.9" r="11"/><circle cx="720.4" cy="1274.8" r="11"/><circle cx="721.3" cy="1272.7" r="11"/><circle cx="722.2" cy="1270.5" r="11"/><circle cx="723.1" cy="1268.3" r="11"/><circle cx="724.0" cy="1266.1" r="11"/><circle cx="725.0" cy="1263.7" r="11"/><circle cx="726.0" cy="1261.4" r="11"/><circle cx="727.0" cy="1258.9" r="11"/><circle cx="728.0" cy="1256.4" r="11"/><circle cx="729.1" cy="1253.8" r="11"/><circle cx="730.2" cy="1251.2" r="11"/><circle cx="731.3" cy="1248.5" r="11"/><circle cx="732.4" cy="1245.7" r="11"/><circle cx="733.6" cy="1242.8" r="11"/><circle cx="734.8" cy="1239.9" r="11"/><circle cx="736.1" cy="1236.8" r="11"/><circle cx="737.4" cy="1233.7" r="11"/><circle cx="738.7" cy="1230.4" r="11"/><circle cx="740.1" cy="1227.0" r="11"/><circle cx="741.6" cy="1223.5" r="11"/><circle cx="743.1" cy="1219.9" r="11"/><circle cx="744.6" cy="1216.1" r="11"/><circle cx="746.3" cy="1212.2" r="11"/><circle cx="748.0" cy="1208.1" r="11"/><circle cx="749.7" cy="1203.8" r="11"/><circle cx="751.6" cy="1199.3" r="11"/><circle cx="753.5" cy="1194.6" r="11"/><circle cx="755.5" cy="1189.7" r="11"/><circle cx="757.7" cy="1184.5" r="11"/><circle cx="760.0" cy="1179.0" r="11"/><circle cx="762.4" cy="1173.1" r="11"/><circle cx="764.9" cy="1166.9" r="11"/><circle cx="767.7" cy="1160.3" r="11"/><circle cx="770.6" cy="1153.2" r="11"/><circle cx="773.8" cy="1145.5" r="11"/><circle cx="777.3" cy="1137.1" r="11"/><circle cx="781.0" cy="1127.9" r="11"/><circle cx="785.2" cy="1117.8" r="11"/><circle cx="789.9" cy="1106.4" r="11"/><circle cx="795.2" cy="1093.6" r="11"/><circle cx="801.4" cy="1078.7" r="11"/><circle cx="808.6" cy="1061.1" r="11"/><circle cx="817.6" cy="1039.5" r="11"/><circle cx="829.2" cy="1011.4" r="11"/><circle cx="845.9" cy="970.7" r="11"/><circle cx="918.1" cy="796.0" r="11"/></g>
<path d="M683.8,1363.5 L683.8,1363.4 L684.2,1362.8 L684.5,1362.2 L684.9,1361.6 L685.2,1361.0 L685.6,1360.3 L685.9,1359.7 L686.3,1359.1 L686.7,1358.4 L687.0,1357.8 L687.4,1357.1 L687.8,1356.5 L688.1,1355.8 L688.5,1355.2 L688.9,1354.5 L689.3,1353.8 L689.6,1353.1 L690.0,1352.5 L690.4,1351.8 L690.8,1351.1 L691.2,1350.4 L691.6,1349.7 L692.0,1349.0 L692.4,1348.3 L692.8,1347.5 L693.2,1346.8 L693.6,1346.1 L694.0,1345.4 L694.5,1344.6 L694.9,1343.9 L695.3,1343.1 L695.7,1342.4 L696.2,1341.6 L696.6,1340.8 L697.0,1340.1 L697.5,1339.3 L697.9,1338.5 L698.4,1337.7 L698.8,1336.9 L699.3,1336.1 L699.7,1335.3 L700.2,1334.5 L700.7,1333.6 L701.1,1332.8 L701.6,1331.9 L702.1,1331.1 L702.6,1330.2 L703.1,1329.4 L703.6,1328.5 L704.1,1327.6 L704.6,1326.7 L705.1,1325.8 L705.6,1324.9 L706.1,1324.0 L706.6,1323.1 L707.1,1322.2 L707.7,1321.2 L708.2,1320.3 L708.8,1319.3 L709.3,1318.3 L709.9,1317.4 L710.4,1316.4 L711.0,1315.4 L711.5,1314.4 L712.1,1313.3 L712.7,1312.3 L713.3,1311.3 L713.9,1310.2 L714.5,1309.1 L715.1,1308.1 L715.7,1307.0 L716.3,1305.9 L717.0,1304.7 L717.6,1303.6 L718.3,1302.5 L718.9,1301.3 L719.6,1300.1 L720.2,1299.0 L720.9,1297.8 L721.6,1296.5 L722.3,1295.3 L723.0,1294.1 L723.7,1292.8 L724.4,1291.5 L725.2,1290.2 L725.9,1288.9 L726.7,1287.6 L727.4,1286.2 L728.2,1284.9 L729.0,1283.5 L729.8,1282.1 L730.6,1280.6 L731.4,1279.2 L732.2,1277.7 L733.1,1276.2 L733.9,1274.7 L734.8,1273.2 L735.7,1271.6 L736.6,1270.0 L737.5,1268.4 L738.4,1266.7 L739.4,1265.0 L740.4,1263.3 L741.3,1261.6 L742.3,1259.8 L743.4,1258.0 L744.4,1256.2 L745.5,1254.3 L746.5,1252.4 L747.6,1250.4 L748.8,1248.4 L749.9,1246.4 L751.1,1244.3 L752.3,1242.2 L753.5,1240.0 L754.8,1237.8 L756.0,1235.5 L757.4,1233.2 L758.7,1230.8 L760.1,1228.4 L761.5,1225.8 L763.0,1223.3 L764.5,1220.6 L766.0,1217.9 L767.6,1215.1 L769.2,1212.2 L770.9,1209.2 L772.6,1206.2 L774.4,1203.0 L776.3,1199.7 L778.2,1196.3 L780.2,1192.8 L782.2,1189.1 L784.4,1185.3 L786.6,1181.4 L788.9,1177.3 L791.4,1173.0 L793.9,1168.4 L796.6,1163.7 L799.4,1158.7 L802.4,1153.5 L805.5,1147.9 L808.8,1142.1 L812.4,1135.8 L816.1,1129.1 L820.2,1121.9 L824.6,1114.1 L829.4,1105.6 L834.7,1096.3 L840.5,1086.0 L847.0,1074.4 L854.4,1061.3 L863.0,1046.1 L873.2,1028.0 L885.9,1005.6 L902.5,976.1 L927.1,932.5 L1004.2,796.0" fill="none" stroke="#0000ff" stroke-width="4" stroke-dasharray="16 24" stroke-dashoffset="-14"/>
<g fill="#0000ff"><circle cx="683.8" cy="1363.5" r="11"/><circle cx="683.8" cy="1363.4" r="11"/><circle cx="684.2" cy="1362.8" r="11"/><circle cx="684.5" cy="1362.2" r="11"/><circle cx="684.9" cy="1361.6" r="11"/><circle cx="685.2" cy="1361.0" r="11"/><circle cx="685.6" cy="1360.3" r="11"/><circle cx="685.9" cy="1359.7" r="11"/><circle cx="686.3" cy="1359.1" r="11"/><circle cx="686.7" cy="1358.4" r="11"/><circle cx="687.0" cy="1357.8" r="11"/><circle cx="687.4" cy="1357.1" r="11"/><circle cx="687.8" cy="1356.5" r="11"/><circle cx="688.1" cy="1355.8" r="11"/><circle cx="688.5" cy="1355.2" r="11"/><circle cx="688.9" cy="1354.5" r="11"/><circle cx="689.3" cy="1353.8" r="11"/><circle cx="689.6" cy="1353.1" r="11"/><circle cx="690.0" cy="1352.5" r="11"/><circle cx="690.4" cy="1351.8" r="11"/><circle cx="690.8" cy="1351.1" r="11"/><circle cx="691.2" cy="1350.4" r="11"/><circle cx="691.6" cy="1349.7" r="11"/><circle cx="692.0" cy="1349.0" r="11"/><circle cx="692.4" cy="1348.3" r="11"/><circle cx="692.8" cy="1347.5" r="11"/><circle cx="693.2" cy="1346.8" r="11"/><circle cx="693.6" cy="1346.1" r="11"/><circle cx="694.0" cy="1345.4" r="11"/><circle cx="694.5" cy="1344.6" r="11"/><circle cx="694.9" cy="1343.9" r="11"/><circle cx="695.3" cy="1343.1" r="11"/><circle cx="695.7" cy="1342.4" r="11"/><circle cx="696.2" cy="1341.6" r="11"/><circle cx="696.6" cy="1340.8" r="11"/><circle cx="697.0" cy="1340.1" r="11"/><circle cx="697.5" cy="1339.3" r="11"/><circle cx="697.9" cy="1338.5" r="11"/><circle cx="698.4" cy="1337.7" r="11"/><circle cx="698.8" cy="1336.9" r="11"/><circle cx="699.3" cy="1336.1" r="11"/><circle cx="699.7" cy="1335.3" r="11"/><circle cx="700.2" cy="1334.5" r="11"/><circle cx="700.7" cy="1333.6" r="11"/><circle cx="701.1" cy="1332.8" r="11"/><circle cx="701.6" cy="1331.9" r="11"/><circle cx="702.1" cy="1331.1" r="11"/><circle cx="702.6" cy="1330.2" r="11"/><circle cx="703.1" cy="1329.4" r="11"/><circle cx="703.6" cy="1328.5" r="11"/><circle cx="704.1" cy="1327.6" r="11"/><circle cx="704.6" cy="1326.7" r="11"/><circle cx="705.1" cy="1325.8" r="11"/><circle cx="705.6" cy="1324.9" r="11"/><circle cx="706.1" cy="1324.0" r="11"/><circle cx="706.6" cy="1323.1" r="11"/><circle cx="707.1" cy="1322.2" r="11"/><circle cx="707.7" cy="1321.2" r="11"/><circle cx="708.2" cy="1320.3" r="11"/><circle cx="708.8" cy="1319.3" r="11"/><circle cx="709.3" cy="1318.3" r="11"/><circle cx="709.9" cy="1317.4" r="11"/><circle cx="710.4" cy="1316.4" r="11"/><circle cx="711.0" cy="1315.4" r="11"/><circle cx="711.5" cy="1314.4" r="11"/><circle cx="712.1" cy="1313.3" r="11"/><circle cx="712.7" cy="1312.3" r="11"/><circle cx="713.3" cy="1311.3" r="11"/><circle cx="713.9" cy="1310.2" r="11"/><circle cx="714.5" cy="1309.1" r="11"/><circle cx="715.1" cy="1308.1" r="11"/><circle cx="715.7" cy="1307.0" r="11"/><circle cx="716.3" cy="1305.9" r="11"/><circle cx="717.0" cy="1304.7" r="11"/><circle cx="717.6" cy="1303.6" r="11"/><circle cx="718.3" cy="1302.5" r="11"/><circle cx="718.9" cy="1301.3" r="11"/><circle cx="719.6" cy="1300.1" r="11"/><circle cx="720.2" cy="1299.0" r="11"/><circle cx="720.9" cy="1297.8" r="11"/><circle cx="721.6" cy="1296.5" r="11"/><circle cx="722.3" cy="1295.3" r="11"/><circle cx="723.0" cy="1294.1" r="11"/><circle cx="723.7" cy="1292.8" r="11"/><circle cx="724.4" cy="1291.5" r="11"/><circle cx="725.2" cy="1290.2" r="11"/><circle cx="725.9" cy="1288.9" r="11"/><circle cx="726.7" cy="1287.6" r="11"/><circle cx="727.4" cy="1286.2" r="11"/><circle cx="728.2" cy="1284.9" r="11"/><circle cx="729.0" cy="1283.5" r="11"/><circle cx="729.8" cy="1282.1" r="11"/><circle cx="730.6" cy="1280.6" r="11"/><circle cx="731.4" cy="1279.2" r="11"/><circle cx="732.2" cy="1277.7" r="11"/><circle cx="733.1" cy="1276.2" r="11"/><circle cx="733.9" cy="1274.7" r="11"/><circle cx="734.8" cy="1273.2" r="11"/><circle cx="735.7" cy="1271.6" r="11"/><circle cx="736.6" cy="1270.0" r="11"/><circle cx="737.5" cy="1268.4" r="11"/><circle cx="738.4" cy="1266.7" r="11"/><circle cx="739.4" cy="1265.0" r="11"/><circle cx="740.4" cy="1263.3" r="11"/><circle cx="741.3" cy="1261.6" r="11"/><circle cx="742.3" cy="1259.8" r="11"/><circle cx="743.4" cy="1258.0" r="11"/><circle cx="744.4" cy="1256.2" r="11"/><circle cx="745.5" cy="1254.3" r="11"/><circle cx="746.5" cy="1252.4" r="11"/><circle cx="747.6" cy="1250.4" r="11"/><circle cx="748.8" cy="1248.4" r="11"/><circle cx="749.9" cy="1246.4" r="11"/><circle cx="751.1" cy="1244.3" r="11"/><circle cx="752.3" cy="1242.2" r="11"/><circle cx="753.5" cy="1240.0" r="11"/><circle cx="754.8" cy="1237.8" r="11"/><circle cx="756.0" cy="1235.5" r="11"/><circle cx="757.4" cy="1233.2" r="11"/><circle cx="758.7" cy="1230.8" r="11"/><circle cx="760.1" cy="1228.4" r="11"/><circle cx="761.5" cy="1225.8" r="11"/><circle cx="763.0" cy="1223.3" r="11"/><circle cx="764.5" cy="1220.6" r="11"/><circle cx="766.0" cy="1217.9" r="11"/><circle cx="767.6" cy="1215.1" r="11"/><circle cx="769.2" cy="1212.2" r="11"/><circle cx="770.9" cy="1209.2" r="11"/><circle cx="772.6" cy="1206.2" r="11"/><circle cx="774.4" cy="1203.0" r="11"/><circle cx="776.3" cy="1199.7" r="11"/><circle cx="778.2" cy="1196.3" r="11"/><circle cx="780.2" cy="1192.8" r="11"/><circle cx="782.2" cy="1189.1" r="11"/><circle cx="784.4" cy="1185.3" r="11"/><circle cx="786.6" cy="1181.4" r="11"/><circle cx="788.9" cy="1177.3" r="11"/><circle cx="791.4" cy="1173.0" r="11"/><circle cx="793.9" cy="1168.4" r="11"/><circle cx="796.6" cy="1163.7" r="11"/><circle cx="799.4" cy="1158.7" r="11"/><circle cx="802.4" cy="1153.5" r="11"/><circle cx="805.5" cy="1147.9" r="11"/><circle cx="808.8" cy="1142.1" r="11"/><circle cx="812.4" cy="1135.8" r="11"/><circle cx="816.1" cy="1129.1" r="11"/><circle cx="820.2" cy="1121.9" r="11"/><circle cx="824.6" cy="1114.1" r="11"/><circle cx="829.4" cy="1105.6" r="11"/><circle cx="834.7" cy="1096.3" r="11"/><circle cx="840.5" cy="1086.0" r="11"/><circle cx="847.0" cy="1074.4" r="11"/><circle cx="854.4" cy="1061.3" r="11"/><circle cx="863.0" cy="1046.1" r="11"/><circle cx="873.2" cy="1028.0" r="11"/><circle cx="885.9" cy="1005.6" r="11"/><circle cx="902.5" cy="976.1" r="11"/><circle cx="927.1" cy="932.5" r="11"/><circle cx="1004.2" cy="796.0" r="11"/></g>
<path d="M683.8,1363.5 L684.0,1363.2 L684.3,1362.7 L684.7,1362.3 L685.0,1361.8 L685.4,1361.3 L685.7,1360.8 L686.1,1360.3 L686.5,1359.8 L686.8,1359.3 L687.2,1358.8 L687.5,1358.3 L687.9,1357.8 L688.3,1357.3 L688.6,1356.7 L689.0,1356.2 L689.4,1355.7 L689.8,1355.2 L690.1,1354.7 L690.5,1354.1 L690.9,1353.6 L691.3,1353.1 L691.7,1352.5 L692.1,1352.0 L692.4,1351.4 L692.8,1350.9 L693.2,1350.3 L693.6,1349.8 L694.0,1349.2 L694.4,1348.7 L694.8,1348.1 L695.2,1347.5 L695.6,1347.0 L696.0,1346.4 L696.5,1345.8 L696.9,1345.2 L697.3,1344.7 L697.7,1344.1 L698.1,1343.5 L698.6,1342.9 L699.0,1342.3 L699.4,1341.7 L699.9,1341.1 L700.3,1340.5 L700.7,1339.9 L701.2,1339.3 L701.6,1338.6 L702.1,1338.0 L702.5,1337.4 L703.0,1336.7 L703.4,1336.1 L703.9,1335.5 L704.3,1334.8 L704.8,1334.2 L705.3,1333.5 L705.7,1332.9 L706.2,1332.2 L706.7,1331.5 L707.2,1330.9 L707.7,1330.2 L708.2,1329.5 L708.6,1328.8 L709.1,1328.1 L709.6,1327.4 L710.1,1326.7 L710.7,1326.0 L711.2,1325.3 L711.7,1324.6 L712.2,1323.9 L712.7,1323.1 L713.2,1322.4 L713.8,1321.7 L714.3,1320.9 L714.8,1320.2 L715.4,1319.4 L715.9,1318.6 L716.5,1317.9 L717.0,1317.1 L717.6,1316.3 L718.2,1315.5 L718.7,1314.7 L719.3,1313.9 L719.9,1313.1 L720.5,1312.3 L721.1,1311.5 L721.6,1310.7 L722.2,1309.8 L722.8,1309.0 L723.5,1308.1 L724.1,1307.3 L724.7,1306.4 L725.3,1305.5 L725.9,1304.7 L726.6,1303.8 L727.2,1302.9 L727.9,1302.0 L728.5,1301.1 L729.2,1300.1 L729.9,1299.2 L730.5,1298.3 L731.2,1297.3 L731.9,1296.3 L732.6,1295.4 L733.3,1294.4 L734.0,1293.4 L734.7,1292.4 L735.5,1291.4 L736.2,1290.4 L736.9,1289.3 L737.7,1288.3 L738.4,1287.2 L739.2,1286.2 L740.0,1285.1 L740.7,1284.0 L741.5,1282.9 L742.3,1281.8 L743.1,1280.7 L744.0,1279.5 L744.8,1278.4 L745.6,1277.2 L746.5,1276.0 L747.3,1274.8 L748.2,1273.6 L749.1,1272.4 L750.0,1271.1 L750.9,1269.9 L751.8,1268.6 L752.7,1267.3 L753.7,1266.0 L754.6,1264.6 L755.6,1263.3 L756.6,1261.9 L757.6,1260.5 L758.6,1259.1 L759.6,1257.7 L760.6,1256.2 L761.7,1254.8 L762.8,1253.3 L763.9,1251.7 L765.0,1250.2 L766.1,1248.6 L767.2,1247.0 L768.4,1245.4 L769.6,1243.7 L770.8,1242.1 L772.0,1240.4 L773.3,1238.6 L774.5,1236.8 L775.8,1235.0 L777.1,1233.2 L778.5,1231.3 L779.9,1229.4 L781.2,1227.5 L782.7,1225.5 L784.1,1223.4 L785.6,1221.4 L787.1,1219.2 L788.7,1217.1 L790.3,1214.8 L791.9,1212.6 L793.6,1210.2 L795.3,1207.8 L797.1,1205.4 L798.9,1202.9 L800.7,1200.3 L802.6,1197.7 L804.5,1194.9 L806.6,1192.1 L808.6,1189.2 L810.8,1186.3 L813.0,1183.2 L815.2,1180.0 L817.6,1176.7 L820.0,1173.3 L822.5,1169.8 L825.2,1166.2 L827.9,1162.4 L830.7,1158.4 L833.7,1154.3 L836.8,1150.0 L840.0,1145.5 L843.4,1140.7 L846.9,1135.8 L850.7,1130.5 L854.7,1125.0 L858.9,1119.1 L863.4,1112.8 L868.2,1106.1 L873.4,1098.9 L878.9,1091.1 L885.0,1082.6 L891.7,1073.3 L899.1,1063.0 L907.3,1051.4 L916.8,1038.3 L927.7,1023.1 L940.6,1004.9 L956.7,982.5 L977.8,953.0 L1009.2,909.3 L1090.3,796.0" fill="none" stroke="#ff00ff" stroke-width="4" stroke-dasharray="16 24" stroke-dashoffset="-14"/>
<g fill="#ff00ff"><circle cx="683.8" cy="1363.5" r="11"/><circle cx="684.0" cy="1363.2" r="11"/><circle cx="684.3" cy="1362.7" r="11"/><circle cx="684.7" cy="1362.3" r="11"/><circle cx="685.0" cy="1361.8" r="11"/><circle cx="685.4" cy="1361.3" r="11"/><circle cx="685.7" cy="1360.8" r="11"/><circle cx="686.1" cy="1360.3" r="11"/><circle cx="686.5" cy="1359.8" r="11"/><circle cx="686.8" cy="1359.3" r="11"/><circle cx="687.2" cy="1358.8" r="11"/><circle cx="687.5" cy="1358.3" r="11"/><circle cx="687.9" cy="1357.8" r="11"/><circle cx="688.3" cy="1357.3" r="11"/><circle cx="688.6" cy="1356.7" r="11"/><circle cx="689.0" cy="1356.2" r="11"/><circle cx="689.4" cy="1355.7" r="11"/><circle cx="689.8" cy="1355.2" r="11"/><circle cx="690.1" cy="1354.7" r="11"/><circle cx="690.5" cy="1354.1" r="11"/><circle cx="690.9" cy="1353.6" r="11"/><circle cx="691.3" cy="1353.1" r="11"/><circle cx="691.7" cy="1352.5" r="11"/><circle cx="692.1" cy="1352.0" r="11"/><circle cx="692.4" cy="1351.4" r="11"/><circle cx="692.8" cy="1350.9" r="11"/><circle cx="693.2" cy="1350.3" r="11"/><circle cx="693.6" cy="1349.8" r="11"/><circle cx="694.0" cy="1349.2" r="11"/><circle cx="694.4" cy="1348.7" r="11"/><circle cx="694.8" cy="1348.1" r="11"/><circle cx="695.2" cy="1347.5" r="11"/><circle cx="695.6" cy="1347.0" r="11"/><circle cx="696.0" cy="1346.4" r="11"/><circle cx="696.5" cy="1345.8" r="11"/><circle cx="696.9" cy="1345.2" r="11"/><circle cx="697.3" cy="1344.7" r="11"/><circle cx="697.7" cy="1344.1" r="11"/><circle cx="698.1" cy="1343.5" r="11"/><circle cx="698.6" cy="1342.9" r="11"/><circle cx="699.0" cy="1342.3" r="11"/><circle cx="699.4" cy="1341.7" r="11"/><circle cx="699.9" cy="1341.1" r="11"/><circle cx="700.3" cy="1340.5" r="11"/><circle cx="700.7" cy="1339.9" r="11"/><circle cx="701.2" cy="1339.3" r="11"/><circle cx="701.6" cy="1338.6" r="11"/><circle cx="702.1" cy="1338.0" r="11"/><circle cx="702.5" cy="1337.4" r="11"/><circle cx="703.0" cy="1336.7" r="11"/><circle cx="703.4" cy="1336.1" r="11"/><circle cx="703.9" cy="1335.5" r="11"/><circle cx="704.3" cy="1334.8" r="11"/><circle cx="704.8" cy="1334.2" r="11"/><circle cx="705.3" cy="1333.5" r="11"/><circle cx="705.7" cy="1332.9" r="11"/><circle cx="706.2" cy="1332.2" r="11"/><circle cx="706.7" cy="1331.5" r="11"/><circle cx="707.2" cy="1330.9" r="11"/><circle cx="707.7" cy="1330.2" r="11"/><circle cx="708.2" cy="1329.5" r="11"/><circle cx="708.6" cy="1328.8" r="11"/><circle cx="709.1" cy="1328.1" r="11"/><circle cx="709.6" cy="1327.4" r="11"/><circle cx="710.1" cy="1326.7" r="11"/><circle cx="710.7" cy="1326.0" r="11"/><circle cx="711.2" cy="1325.3" r="11"/><circle cx="711.7" cy="1324.6" r="11"/><circle cx="712.2" cy="1323.9" r="11"/><circle cx="712.7" cy="1323.1" r="11"/><circle cx="713.2" cy="1322.4" r="11"/><circle cx="713.8" cy="1321.7" r="11"/><circle cx="714.3" cy="1320.9" r="11"/><circle cx="714.8" cy="1320.2" r="11"/><circle cx="715.4" cy="1319.4" r="11"/><circle cx="715.9" cy="1318.6" r="11"/><circle cx="716.5" cy="1317.9" r="11"/><circle cx="717.0" cy="1317.1" r="11"/><circle cx="717.6" cy="1316.3" r="11"/><circle cx="718.2" cy="1315.5" r="11"/><circle cx="718.7" cy="1314.7" r="11"/><circle cx="719.3" cy="1313.9" r="11"/><circle cx="719.9" cy="1313.1" r="11"/><circle cx="720.5" cy="1312.3" r="11"/><circle cx="721.1" cy="1311.5" r="11"/><circle cx="721.6" cy="1310.7" r="11"/><circle cx="722.2" cy="1309.8" r="11"/><circle cx="722.8" cy="1309.0" r="11"/><circle cx="723.5" cy="1308.1" r="11"/><circle cx="724.1" cy="1307.3" r="11"/><circle cx="724.7" cy="1306.4" r="11"/><circle cx="725.3" cy="1305.5" r="11"/><circle cx="725.9" cy="1304.7" r="11"/><circle cx="726.6" cy="1303.8" r="11"/><circle cx="727.2" cy="1302.9" r="11"/><circle cx="727.9" cy="1302.0" r="11"/><circle cx="728.5" cy="1301.1" r="11"/><circle cx="729.2" cy="1300.1" r="11"/><circle cx="729.9" cy="1299.2" r="11"/><circle cx="730.5" cy="1298.3" r="11"/><circle cx="731.2" cy="1297.3" r="11"/><circle cx="731.9" cy="1296.3" r="11"/><circle cx="732.6" cy="1295.4" r="11"/><circle cx="733.3" cy="1294.4" r="11"/><circle cx="734.0" cy="1293.4" r="11"/><circle cx="734.7" cy="1292.4" r="11"/><circle cx="735.5" cy="1291.4" r="11"/><circle cx="736.2" cy="1290.4" r="11"/><circle cx="736.9" cy="1289.3" r="11"/><circle cx="737.7" cy="1288.3" r="11"/><circle cx="738.4" cy="1287.2" r="11"/><circle cx="739.2" cy="1286.2" r="11"/><circle cx="740.0" cy="1285.1" r="11"/><circle cx="740.7" cy="1284.0" r="11"/><circle cx="741.5" cy="1282.9" r="11"/><circle cx="742.3" cy="1281.8" r="11"/><circle cx="743.1" cy="1280.7" r="11"/><circle cx="744.0" cy="1279.5" r="11"/><circle cx="744.8" cy="1278.4" r="11"/><circle cx="745.6" cy="1277.2" r="11"/><circle cx="746.5" cy="1276.0" r="11"/><circle cx="747.3" cy="1274.8" r="11"/><circle cx="748.2" cy="1273.6" r="11"/><circle cx="749.1" cy="1272.4" r="11"/><circle cx="750.0" cy="1271.1" r="11"/><circle cx="750.9" cy="1269.9" r="11"/><circle cx="751.8" cy="1268.6" r="11"/><circle cx="752.7" cy="1267.3" r="11"/><circle cx="753.7" cy="1266.0" r="11"/><circle cx="754.6" cy="1264.6" r="11"/><circle cx="755.6" cy="1263.3" r="11"/><circle cx="756.6" cy="1261.9" r="11"/><circle cx="757.6" cy="1260.5" r="11"/><circle cx="758.6" cy="1259.1" r="11"/><circle cx="759.6" cy="1257.7" r="11"/><circle cx="760.6" cy="1256.2" r="11"/><circle cx="761.7" cy="1254.8" r="11"/><circle cx="762.8" cy="1253.3" r="11"/><circle cx="763.9" cy="1251.7" r="11"/><circle cx="765.0" cy="1250.2" r="11"/><circle cx="766.1" cy="1248.6" r="11"/><circle cx="767.2" cy="1247.0" r="11"/><circle cx="768.4" cy="1245.4" r="11"/><circle cx="769.6" cy="1243.7" r="11"/><circle cx="770.8" cy="1242.1" r="11"/><circle cx="772.0" cy="1240.4" r="11"/><circle cx="773.3" cy="1238.6" r="11"/><circle cx="774.5" cy="1236.8" r="11"/><circle cx="775.8" cy="1235.0" r="11"/><circle cx="777.1" cy="1233.2" r="11"/><circle cx="778.5" cy="1231.3" r="11"/><circle cx="779.9" cy="1229.4" r="11"/><circle cx="781.2" cy="1227.5" r="11"/><circle cx="782.7" cy="1225.5" r="11"/><circle cx="784.1" cy="1223.4" r="11"/><circle cx="785.6" cy="1221.4" r="11"/><circle cx="787.1" cy="1219.2" r="11"/><circle cx="788.7" cy="1217.1" r="11"/><circle cx="790.3" cy="1214.8" r="11"/><circle cx="791.9" cy="1212.6" r="11"/><circle cx="793.6" cy="1210.2" r="11"/><circle cx="795.3" cy="1207.8" r="11"/><circle cx="797.1" cy="1205.4" r="11"/><circle cx="798.9" cy="1202.9" r="11"/><circle cx="800.7" cy="1200.3" r="11"/><circle cx="802.6" cy="1197.7" r="11"/><circle cx="804.5" cy="1194.9" r="11"/><circle cx="806.6" cy="1192.1" r="11"/><circle cx="808.6" cy="1189.2" r="11"/><circle cx="810.8" cy="1186.3" r="11"/><circle cx="813.0" cy="1183.2" r="11"/><circle cx="815.2" cy="1180.0" r="11"/><circle cx="817.6" cy="1176.7" r="11"/><circle cx="820.0" cy="1173.3" r="11"/><circle cx="822.5" cy="1169.8" r="11"/><circle cx="825.2" cy="1166.2" r="11"/><circle cx="827.9" cy="1162.4" r="11"/><circle cx="830.7" cy="1158.4" r="11"/><circle cx="833.7" cy="1154.3" r="11"/><circle cx="836.8" cy="1150.0" r="11"/><circle cx="840.0" cy="1145.5" r="11"/><circle cx="843.4" cy="1140.7" r="11"/><circle cx="846.9" cy="1135.8" r="11"/><circle cx="850.7" cy="1130.5" r="11"/><circle cx="854.7" cy="1125.0" r="11"/><circle cx="858.9" cy="1119.1" r="11"/><circle cx="863.4" cy="1112.8" r="11"/><circle cx="868.2" cy="1106.1" r="11"/><circle cx="873.4" cy="1098.9" r="11"/><circle cx="878.9" cy="1091.1" r="11"/><circle cx="885.0" cy="1082.6" r="11"/><circle cx="891.7" cy="1073.3" r="11"/><circle cx="899.1" cy="1063.0" r="11"/><circle cx="907.3" cy="1051.4" r="11"/><circle cx="916.8" cy="1038.3" r="11"/><circle cx="927.7" cy="1023.1" r="11"/><circle cx="940.6" cy="1004.9" r="11"/><circle cx="956.7" cy="982.5" r="11"/><circle cx="977.8" cy="953.0" r="11"/><circle cx="1009.2" cy="909.3" r="11"/><circle cx="1090.3" cy="796.0" r="11"/></g>
<text x="634" y="716.5" font-size="57" font-weight="bold" font-style="normal" text-anchor="end" fill="#000" >100</text>
<text x="634" y="938.5" font-size="57" font-weight="bold" font-style="normal" text-anchor="end" fill="#000" >10</text>
<text x="634" y="1160.5" font-size="57" font-weight="bold" font-style="normal" text-anchor="end" fill="#000" >1</text>
<text x="634" y="1382.5" font-size="57" font-weight="bold" font-style="normal" text-anchor="end" fill="#000" >0.1</text>
<text x="683.8" y="1492" font-size="57" font-weight="bold" font-style="normal" text-anchor="middle" fill="#000" >0</text>
<text x="821.6" y="1492" font-size="57" font-weight="bold" font-style="normal" text-anchor="middle" fill="#000" >40</text>
<text x="959.4" y="1492" font-size="57" font-weight="bold" font-style="normal" text-anchor="middle" fill="#000" >80</text>
<text x="1097.2" y="1492" font-size="57" font-weight="bold" font-style="normal" text-anchor="middle" fill="#000" >120</text>
<text x="890" y="1547.5" font-size="60" font-weight="bold" font-style="normal" text-anchor="middle" fill="#000" >Depth <tspan font-style="italic">h</tspan>, µm</text>
<text transform="translate(526,1023) rotate(-90)" text-anchor="middle" font-size="60" font-weight="bold">Grain size <tspan font-style="italic">d</tspan>, µm</text>
<text x="658" y="759" font-size="59.5" font-weight="bold" font-style="normal" text-anchor="start" fill="#000" >lg(<tspan font-style="italic">d</tspan>) = <tspan font-style="italic">a</tspan><tspan font-size="39" dy="15">g</tspan><tspan dy="-15">​</tspan><tspan font-style="italic">h</tspan> + <tspan font-style="italic">b</tspan><tspan font-size="39" dy="15">g</tspan><tspan dy="-15">​</tspan></text>
<path d="M819,1198.5 H843 M880,1198.5 H902" stroke="#000000" stroke-width="3"/>
<circle cx="866" cy="1198.5" r="11" fill="#000000"/>
<text x="920" y="1211.5" font-size="39" font-weight="bold" font-style="normal" text-anchor="start" fill="#000" ><tspan font-style="italic">h</tspan><tspan font-size="26" dy="10">g</tspan><tspan dy="-10">​</tspan> = 25 µm</text>
<path d="M819,1260.0 H843 M880,1260.0 H902" stroke="#ff0000" stroke-width="3"/>
<circle cx="866" cy="1260.0" r="11" fill="#ff0000"/>
<text x="920" y="1273.0" font-size="39" font-weight="bold" font-style="normal" text-anchor="start" fill="#000" ><tspan font-style="italic">h</tspan><tspan font-size="26" dy="10">g</tspan><tspan dy="-10">​</tspan> = 50 µm</text>
<path d="M819,1321.5 H843 M880,1321.5 H902" stroke="#0000ff" stroke-width="3"/>
<circle cx="866" cy="1321.5" r="11" fill="#0000ff"/>
<text x="920" y="1334.5" font-size="39" font-weight="bold" font-style="normal" text-anchor="start" fill="#000" ><tspan font-style="italic">h</tspan><tspan font-size="26" dy="10">g</tspan><tspan dy="-10">​</tspan> = 75 µm</text>
<path d="M819,1383.0 H843 M880,1383.0 H902" stroke="#ff00ff" stroke-width="3"/>
<circle cx="866" cy="1383.0" r="11" fill="#ff00ff"/>
<text x="920" y="1396.0" font-size="39" font-weight="bold" font-style="normal" text-anchor="start" fill="#000" ><tspan font-style="italic">h</tspan><tspan font-size="26" dy="10">g</tspan><tspan dy="-10">​</tspan> = 100 µm</text>
<polygon points="1447.3,60.5 1469.3,61.2 1484.0,71.5 1533.8,74.4 1542.6,78.1 1579.2,60.5 1686.2,62.0 1703.7,69.3 1725.7,69.3 1744.8,62.0 1760.0,64.5 1790.0,69.3 1823.0,67.1 1867.0,63.4 1896.5,62.7 1940.5,64.9 1970.0,68.6 1999.0,73.7 2028.4,62.0 2060.0,67.8 2093.7,59.8 2118.6,63.4 2150.8,58.3 2191.9,64.2 2228.5,60.5 2265.0,69.3 2301.8,62.0 2331.0,67.8 2353.0,62.7 2373.5,65.6 2373.5,447.6 1447.3,447.6" fill="#0000ff"/>
<path d="M1469.3,61.2L1511.8,111.8M1511.8,111.8L1579.2,62.0M1689.0,60.5L1755.0,95.7M1654.0,101.5L1689.0,76.6M1672.0,96.0L1700.0,80.0M1750.0,64.9L1855.5,108.9M1783.7,69.3L1838.0,104.5M1942.0,111.8L2034.2,60.5M1942.0,64.9L1962.5,91.3M1977.0,70.0L1990.0,84.0M2025.5,69.3L2035.7,98.6M2035.7,98.6L2070.0,81.0M2060.0,89.8L2096.6,57.6M2089.3,101.5L2152.3,59.0M2167.0,101.5L2230.0,60.5M2224.0,104.5L2300.3,60.5M2296.0,103.0L2354.5,62.0M2331.0,90.0L2346.0,99.0M2353.0,99.0L2375.0,84.0" stroke="#000c18" stroke-width="5.6" stroke-linecap="round" fill="none"/>
<path d="M1557.0,84.0L1570.0,97.0M1572.0,81.0L1590.0,97.0M1506.0,75.0L1512.0,79.0M1768.0,90.0L1790.0,70.0M1820.0,68.0L1826.0,70.0" stroke="#000818" stroke-width="5" stroke-linecap="round" fill="none"/>
<path d="M1654.0,101.5L1689.0,76.6M1672.0,96.0L1700.0,80.0M1942.0,64.9L1962.5,91.3M1977.0,70.0L1990.0,84.0M2025.5,69.3L2035.7,98.6M2331.0,90.0L2346.0,99.0M2353.0,99.0L2375.0,84.0" stroke="#0050d8" stroke-width="2.2" fill="none"/>
<path d="M1469.3,61.2L1511.8,111.8M1689.0,60.5L1755.0,95.7M1783.7,69.3L1838.0,104.5M2035.7,98.6L2070.0,81.0M2060.0,89.8L2096.6,57.6M2089.3,101.5L2152.3,59.0M2167.0,101.5L2230.0,60.5M2296.0,103.0L2354.5,62.0" stroke="#00ccf0" stroke-width="2.2" fill="none"/>
<path d="M1511.8,111.8L1579.2,62.0M1750.0,64.9L1855.5,108.9M1942.0,111.8L2034.2,60.5M2224.0,104.5L2300.3,60.5" stroke="#00e896" stroke-width="2.2" fill="none"/>
<rect x="1299.7" y="147.5" width="27.3" height="18.9" fill="#c8c8c8"/>
<rect x="1299.7" y="166.1" width="27.3" height="18.9" fill="#ff0000"/>
<rect x="1299.7" y="184.7" width="27.3" height="18.9" fill="#ff5d00"/>
<rect x="1299.7" y="203.3" width="27.3" height="18.9" fill="#ffb900"/>
<rect x="1299.7" y="221.9" width="27.3" height="18.9" fill="#e8ff00"/>
<rect x="1299.7" y="240.5" width="27.3" height="18.9" fill="#8bff00"/>
<rect x="1299.7" y="259.1" width="27.3" height="18.9" fill="#2eff00"/>
<rect x="1299.7" y="277.7" width="27.3" height="18.9" fill="#00ff2e"/>
<rect x="1299.7" y="296.3" width="27.3" height="18.9" fill="#00ff8b"/>
<rect x="1299.7" y="314.9" width="27.3" height="18.9" fill="#00ffe8"/>
<rect x="1299.7" y="333.5" width="27.3" height="18.9" fill="#00b9ff"/>
<rect x="1299.7" y="352.1" width="27.3" height="18.9" fill="#005dff"/>
<rect x="1299.7" y="370.7" width="27.3" height="18.9" fill="#0000ff"/>
<line x1="1297.2" y1="147.5" x2="1336.0" y2="147.5" stroke="#444" stroke-opacity="0.5" stroke-width="1.8"/>
<text x="1369.2" y="154.1" font-size="21" font-weight="bold" font-style="normal" text-anchor="middle" fill="#111" >27.43</text>
<line x1="1297.2" y1="166.1" x2="1336.0" y2="166.1" stroke="#444" stroke-opacity="0.5" stroke-width="1.8"/>
<text x="1369.2" y="172.7" font-size="21" font-weight="bold" font-style="normal" text-anchor="middle" fill="#111" >10.00</text>
<line x1="1297.2" y1="184.7" x2="1336.0" y2="184.7" stroke="#444" stroke-opacity="0.5" stroke-width="1.8"/>
<text x="1369.2" y="191.3" font-size="21" font-weight="bold" font-style="normal" text-anchor="middle" fill="#111" >9.17</text>
<line x1="1297.2" y1="203.3" x2="1336.0" y2="203.3" stroke="#444" stroke-opacity="0.5" stroke-width="1.8"/>
<text x="1369.2" y="209.9" font-size="21" font-weight="bold" font-style="normal" text-anchor="middle" fill="#111" >8.33</text>
<line x1="1297.2" y1="221.9" x2="1336.0" y2="221.9" stroke="#444" stroke-opacity="0.5" stroke-width="1.8"/>
<text x="1369.2" y="228.5" font-size="21" font-weight="bold" font-style="normal" text-anchor="middle" fill="#111" >7.50</text>
<line x1="1297.2" y1="240.5" x2="1336.0" y2="240.5" stroke="#444" stroke-opacity="0.5" stroke-width="1.8"/>
<text x="1369.2" y="247.1" font-size="21" font-weight="bold" font-style="normal" text-anchor="middle" fill="#111" >6.67</text>
<line x1="1297.2" y1="259.1" x2="1336.0" y2="259.1" stroke="#444" stroke-opacity="0.5" stroke-width="1.8"/>
<text x="1369.2" y="265.7" font-size="21" font-weight="bold" font-style="normal" text-anchor="middle" fill="#111" >5.83</text>
<line x1="1297.2" y1="277.7" x2="1336.0" y2="277.7" stroke="#444" stroke-opacity="0.5" stroke-width="1.8"/>
<text x="1369.2" y="284.3" font-size="21" font-weight="bold" font-style="normal" text-anchor="middle" fill="#111" >5.00</text>
<line x1="1297.2" y1="296.3" x2="1336.0" y2="296.3" stroke="#444" stroke-opacity="0.5" stroke-width="1.8"/>
<text x="1369.2" y="302.9" font-size="21" font-weight="bold" font-style="normal" text-anchor="middle" fill="#111" >4.17</text>
<line x1="1297.2" y1="314.9" x2="1336.0" y2="314.9" stroke="#444" stroke-opacity="0.5" stroke-width="1.8"/>
<text x="1369.2" y="321.5" font-size="21" font-weight="bold" font-style="normal" text-anchor="middle" fill="#111" >3.33</text>
<line x1="1297.2" y1="333.5" x2="1336.0" y2="333.5" stroke="#444" stroke-opacity="0.5" stroke-width="1.8"/>
<text x="1369.2" y="340.1" font-size="21" font-weight="bold" font-style="normal" text-anchor="middle" fill="#111" >2.50</text>
<line x1="1297.2" y1="352.1" x2="1336.0" y2="352.1" stroke="#444" stroke-opacity="0.5" stroke-width="1.8"/>
<text x="1369.2" y="358.7" font-size="21" font-weight="bold" font-style="normal" text-anchor="middle" fill="#111" >1.67</text>
<line x1="1297.2" y1="370.7" x2="1336.0" y2="370.7" stroke="#444" stroke-opacity="0.5" stroke-width="1.8"/>
<text x="1369.2" y="377.3" font-size="21" font-weight="bold" font-style="normal" text-anchor="middle" fill="#111" >0.83</text>
<line x1="1297.2" y1="389.3" x2="1336.0" y2="389.3" stroke="#444" stroke-opacity="0.5" stroke-width="1.8"/>
<text x="1369.2" y="395.9" font-size="21" font-weight="bold" font-style="normal" text-anchor="middle" fill="#111" >0.00</text>
<text x="1351.5" y="130.9" font-size="21.5" font-weight="bold" font-style="normal" text-anchor="middle" fill="#222" >(Avg: 75%)</text>
<text transform="translate(1301.5,103.6) scale(1.16,1)" font-size="52" font-style="italic" font-weight="normal" fill="#111" stroke="#111" stroke-width="1.1">ε</text>
<rect x="1305" y="68.3" width="30" height="3.8" fill="#333"/>
<text x="1337.5" y="80.19999999999999" font-size="31" font-weight="bold" font-style="normal" text-anchor="start" fill="#111" >p</text>
<text fill="#fff"><tspan x="1546.0" y="266.4" font-size="66" font-style="italic" font-weight="bold" stroke="#0000ff" stroke-width="1.6">h</tspan><tspan x="1578.5" y="281.4" font-size="41" font-style="normal" font-weight="bold" stroke="#0000ff" stroke-width="1.2">g</tspan><tspan x="1620.0" y="266.4" font-size="68" font-style="normal" font-weight="normal" stroke="#ffffff" stroke-width="1.0">=</tspan><tspan x="1675.0" y="266.4" font-size="66" font-style="normal" font-weight="normal" stroke="#ffffff" stroke-width="1.0">25</tspan><tspan x="1761.0" y="266.4" font-size="66" font-style="normal" font-weight="bold" stroke="#0000ff" stroke-width="0.9">µm,</tspan><tspan x="1898.0" y="266.4" font-size="66" font-style="italic" font-weight="normal" stroke="#ffffff" stroke-width="1.0">ε</tspan><tspan x="1930.5" y="283.4" font-size="41" font-style="normal" font-weight="bold" stroke="#0000ff" stroke-width="1.2">u</tspan><tspan x="1972.0" y="266.4" font-size="68" font-style="normal" font-weight="normal" stroke="#ffffff" stroke-width="1.0">=</tspan><tspan x="2024.5" y="266.4" font-size="66" font-style="normal" font-weight="bold" stroke="#0000ff" stroke-width="0.9">35.24%</tspan></text>
<text x="1470.5" y="419.0" font-size="104" font-weight="normal" font-style="normal" text-anchor="start" fill="#fff" stroke="#fff" stroke-width="1.2">b</text>
<polygon points="1447.3,515.2 1491.3,514.4 1528.0,519.0 1534.0,518.0 1569.0,502.0 1630.5,511.5 1655.0,515.0 1665.6,502.0 1720.0,509.0 1750.0,513.7 1778.0,516.0 1794.0,503.4 1867.2,515.2 1872.0,515.5 1886.3,505.6 1918.5,511.5 1925.0,512.5 1936.0,505.0 1996.2,519.6 2005.0,521.0 2040.0,499.8 2070.0,503.4 2116.0,513.0 2128.0,514.5 2149.6,499.0 2258.0,513.7 2280.0,514.5 2293.2,505.0 2347.6,505.6 2347.6,902.0 1447.3,902.0" fill="#0000ff"/>
<path d="M1469.3,569.4L1567.5,500.5M1448.8,544.5L1489.8,513.7M1448.8,544.5L1469.3,567.0M1577.7,567.9L1665.6,502.0M1696.4,572.3L1794.0,504.2M1789.6,566.4L1886.3,506.4M1849.6,559.0L1936.0,505.0M1918.5,573.8L2040.0,499.8M2054.4,569.4L2149.6,499.0M2184.8,573.8L2293.2,506.4M2278.6,513.7L2349.0,566.4M2284.4,524.0L2325.5,562.0M2291.0,515.0L2322.0,548.0" stroke="#000c18" stroke-width="5.6" stroke-linecap="round" fill="none"/>
<path d="M1450.0,520.0L1460.0,516.0M1449.0,556.0L1460.0,562.0M1885.0,545.0L1895.0,540.0M1958.0,563.0L1972.0,556.0M2276.0,540.0L2281.0,543.0" stroke="#000818" stroke-width="5" stroke-linecap="round" fill="none"/>
<path d="M1448.8,544.5L1469.3,567.0M2278.6,513.7L2349.0,566.4M2284.4,524.0L2325.5,562.0M2291.0,515.0L2322.0,548.0" stroke="#0050d8" stroke-width="2.2" fill="none"/>
<path d="M1448.8,544.5L1489.8,513.7M1849.6,559.0L1936.0,505.0" stroke="#00ccf0" stroke-width="2.2" fill="none"/>
<path d="M1469.3,569.4L1567.5,500.5M1577.7,567.9L1665.6,502.0M1696.4,572.3L1794.0,504.2M1789.6,566.4L1886.3,506.4M1918.5,573.8L2040.0,499.8M2054.4,569.4L2149.6,499.0M2184.8,573.8L2293.2,506.4" stroke="#00e896" stroke-width="2.2" fill="none"/>
<rect x="1299.7" y="600.5" width="27.3" height="18.9" fill="#c8c8c8"/>
<rect x="1299.7" y="619.1" width="27.3" height="18.9" fill="#ff0000"/>
<rect x="1299.7" y="637.7" width="27.3" height="18.9" fill="#ff5d00"/>
<rect x="1299.7" y="656.3" width="27.3" height="18.9" fill="#ffb900"/>
<rect x="1299.7" y="674.9" width="27.3" height="18.9" fill="#e8ff00"/>
<rect x="1299.7" y="693.5" width="27.3" height="18.9" fill="#8bff00"/>
<rect x="1299.7" y="712.1" width="27.3" height="18.9" fill="#2eff00"/>
<rect x="1299.7" y="730.7" width="27.3" height="18.9" fill="#00ff2e"/>
<rect x="1299.7" y="749.3" width="27.3" height="18.9" fill="#00ff8b"/>
<rect x="1299.7" y="767.9" width="27.3" height="18.9" fill="#00ffe8"/>
<rect x="1299.7" y="786.5" width="27.3" height="18.9" fill="#00b9ff"/>
<rect x="1299.7" y="805.1" width="27.3" height="18.9" fill="#005dff"/>
<rect x="1299.7" y="823.7" width="27.3" height="18.9" fill="#0000ff"/>
<line x1="1297.2" y1="600.5" x2="1336.0" y2="600.5" stroke="#444" stroke-opacity="0.5" stroke-width="1.8"/>
<text x="1369.2" y="607.1" font-size="21" font-weight="bold" font-style="normal" text-anchor="middle" fill="#111" >26.38</text>
<line x1="1297.2" y1="619.1" x2="1336.0" y2="619.1" stroke="#444" stroke-opacity="0.5" stroke-width="1.8"/>
<text x="1369.2" y="625.7" font-size="21" font-weight="bold" font-style="normal" text-anchor="middle" fill="#111" >10.00</text>
<line x1="1297.2" y1="637.7" x2="1336.0" y2="637.7" stroke="#444" stroke-opacity="0.5" stroke-width="1.8"/>
<text x="1369.2" y="644.3" font-size="21" font-weight="bold" font-style="normal" text-anchor="middle" fill="#111" >9.17</text>
<line x1="1297.2" y1="656.3" x2="1336.0" y2="656.3" stroke="#444" stroke-opacity="0.5" stroke-width="1.8"/>
<text x="1369.2" y="662.9" font-size="21" font-weight="bold" font-style="normal" text-anchor="middle" fill="#111" >8.33</text>
<line x1="1297.2" y1="674.9" x2="1336.0" y2="674.9" stroke="#444" stroke-opacity="0.5" stroke-width="1.8"/>
<text x="1369.2" y="681.5" font-size="21" font-weight="bold" font-style="normal" text-anchor="middle" fill="#111" >7.50</text>
<line x1="1297.2" y1="693.5" x2="1336.0" y2="693.5" stroke="#444" stroke-opacity="0.5" stroke-width="1.8"/>
<text x="1369.2" y="700.1" font-size="21" font-weight="bold" font-style="normal" text-anchor="middle" fill="#111" >6.67</text>
<line x1="1297.2" y1="712.1" x2="1336.0" y2="712.1" stroke="#444" stroke-opacity="0.5" stroke-width="1.8"/>
<text x="1369.2" y="718.7" font-size="21" font-weight="bold" font-style="normal" text-anchor="middle" fill="#111" >5.83</text>
<line x1="1297.2" y1="730.7" x2="1336.0" y2="730.7" stroke="#444" stroke-opacity="0.5" stroke-width="1.8"/>
<text x="1369.2" y="737.3" font-size="21" font-weight="bold" font-style="normal" text-anchor="middle" fill="#111" >5.00</text>
<line x1="1297.2" y1="749.3" x2="1336.0" y2="749.3" stroke="#444" stroke-opacity="0.5" stroke-width="1.8"/>
<text x="1369.2" y="755.9" font-size="21" font-weight="bold" font-style="normal" text-anchor="middle" fill="#111" >4.17</text>
<line x1="1297.2" y1="767.9" x2="1336.0" y2="767.9" stroke="#444" stroke-opacity="0.5" stroke-width="1.8"/>
<text x="1369.2" y="774.5" font-size="21" font-weight="bold" font-style="normal" text-anchor="middle" fill="#111" >3.33</text>
<line x1="1297.2" y1="786.5" x2="1336.0" y2="786.5" stroke="#444" stroke-opacity="0.5" stroke-width="1.8"/>
<text x="1369.2" y="793.1" font-size="21" font-weight="bold" font-style="normal" text-anchor="middle" fill="#111" >2.50</text>
<line x1="1297.2" y1="805.1" x2="1336.0" y2="805.1" stroke="#444" stroke-opacity="0.5" stroke-width="1.8"/>
<text x="1369.2" y="811.7" font-size="21" font-weight="bold" font-style="normal" text-anchor="middle" fill="#111" >1.67</text>
<line x1="1297.2" y1="823.7" x2="1336.0" y2="823.7" stroke="#444" stroke-opacity="0.5" stroke-width="1.8"/>
<text x="1369.2" y="830.3" font-size="21" font-weight="bold" font-style="normal" text-anchor="middle" fill="#111" >0.83</text>
<line x1="1297.2" y1="842.3" x2="1336.0" y2="842.3" stroke="#444" stroke-opacity="0.5" stroke-width="1.8"/>
<text x="1369.2" y="848.9" font-size="21" font-weight="bold" font-style="normal" text-anchor="middle" fill="#111" >0.00</text>
<text x="1351.5" y="583.9" font-size="21.5" font-weight="bold" font-style="normal" text-anchor="middle" fill="#222" >(Avg: 75%)</text>
<text transform="translate(1301.5,556.0) scale(1.16,1)" font-size="52" font-style="italic" font-weight="normal" fill="#111" stroke="#111" stroke-width="1.1">ε</text>
<rect x="1305" y="520.7" width="30" height="3.8" fill="#333"/>
<text x="1337.5" y="532.6" font-size="31" font-weight="bold" font-style="normal" text-anchor="start" fill="#111" >p</text>
<text fill="#fff"><tspan x="1546.0" y="719.6" font-size="66" font-style="italic" font-weight="bold" stroke="#0000ff" stroke-width="1.6">h</tspan><tspan x="1578.5" y="734.6" font-size="41" font-style="normal" font-weight="bold" stroke="#0000ff" stroke-width="1.2">g</tspan><tspan x="1620.0" y="719.6" font-size="68" font-style="normal" font-weight="normal" stroke="#ffffff" stroke-width="1.0">=</tspan><tspan x="1675.0" y="719.6" font-size="66" font-style="normal" font-weight="bold" stroke="#0000ff" stroke-width="0.9">50</tspan><tspan x="1761.0" y="719.6" font-size="66" font-style="normal" font-weight="bold" stroke="#0000ff" stroke-width="0.9">µm,</tspan><tspan x="1898.0" y="719.6" font-size="66" font-style="italic" font-weight="normal" stroke="#ffffff" stroke-width="1.0">ε</tspan><tspan x="1930.5" y="736.6" font-size="41" font-style="normal" font-weight="bold" stroke="#0000ff" stroke-width="1.2">u</tspan><tspan x="1972.0" y="719.6" font-size="68" font-style="normal" font-weight="normal" stroke="#ffffff" stroke-width="1.0">=</tspan><tspan x="2024.5" y="719.6" font-size="66" font-style="normal" font-weight="bold" stroke="#0000ff" stroke-width="0.9">31.34%</tspan></text>
<text x="1468.0" y="874.0" font-size="104" font-weight="normal" font-style="normal" text-anchor="start" fill="#fff" stroke="#fff" stroke-width="1.2">c</text>
<polygon points="1447.3,943.2 1462.0,944.7 1484.0,958.6 1611.4,950.5 1659.8,965.9 1760.0,952.7 1799.8,947.6 1852.6,964.4 1975.6,946.8 2021.0,964.4 2070.0,958.6 2123.8,947.6 2166.3,968.1 2279.0,954.9 2320.5,978.4 2320.5,1361.2 1447.3,1361.2" fill="#0000ff"/>
<path d="M1460.5,946.1L1548.4,1031.1M1555.7,1029.6L1617.3,956.4M1579.2,1026.7L1629.0,974.0M1612.9,952.0L1757.0,1046.0M1758.8,1044.3L1816.0,968.1M1801.3,946.1L1949.3,1044.3M1880.0,1010.0L1892.0,1028.0M1977.0,944.7L2118.0,1038.4M2068.0,1010.0L2100.0,1036.0M2125.2,946.1L2254.2,1042.8M2190.0,1005.0L2212.0,1030.0M2258.6,1041.4L2315.7,976.9M2280.5,952.0L2317.2,978.4" stroke="#000c18" stroke-width="5.6" stroke-linecap="round" fill="none"/>
<path d="M1939.0,1022.3L1969.8,979.8M2300.0,958.0L2320.0,966.0" stroke="#000818" stroke-width="5" stroke-linecap="round" fill="none"/>
<path d="M1555.7,1029.6L1617.3,956.4M1579.2,1026.7L1629.0,974.0M1758.8,1044.3L1816.0,968.1M1880.0,1010.0L1892.0,1028.0M2068.0,1010.0L2100.0,1036.0M2190.0,1005.0L2212.0,1030.0" stroke="#0050d8" stroke-width="2.2" fill="none"/>
<path d="M2258.6,1041.4L2315.7,976.9M2280.5,952.0L2317.2,978.4" stroke="#00ccf0" stroke-width="2.2" fill="none"/>
<path d="M1460.5,946.1L1548.4,1031.1M1612.9,952.0L1757.0,1046.0M1801.3,946.1L1949.3,1044.3M1977.0,944.7L2118.0,1038.4M2125.2,946.1L2254.2,1042.8" stroke="#00e896" stroke-width="2.2" fill="none"/>
<rect x="1299.7" y="1041.1" width="27.3" height="18.9" fill="#c8c8c8"/>
<rect x="1299.7" y="1059.7" width="27.3" height="18.9" fill="#ff0000"/>
<rect x="1299.7" y="1078.3" width="27.3" height="18.9" fill="#ff5d00"/>
<rect x="1299.7" y="1096.9" width="27.3" height="18.9" fill="#ffb900"/>
<rect x="1299.7" y="1115.5" width="27.3" height="18.9" fill="#e8ff00"/>
<rect x="1299.7" y="1134.1" width="27.3" height="18.9" fill="#8bff00"/>
<rect x="1299.7" y="1152.7" width="27.3" height="18.9" fill="#2eff00"/>
<rect x="1299.7" y="1171.3" width="27.3" height="18.9" fill="#00ff2e"/>
<rect x="1299.7" y="1189.9" width="27.3" height="18.9" fill="#00ff8b"/>
<rect x="1299.7" y="1208.5" width="27.3" height="18.9" fill="#00ffe8"/>
<rect x="1299.7" y="1227.1" width="27.3" height="18.9" fill="#00b9ff"/>
<rect x="1299.7" y="1245.7" width="27.3" height="18.9" fill="#005dff"/>
<rect x="1299.7" y="1264.3" width="27.3" height="18.9" fill="#0000ff"/>
<line x1="1297.2" y1="1041.1" x2="1336.0" y2="1041.1" stroke="#444" stroke-opacity="0.5" stroke-width="1.8"/>
<text x="1369.2" y="1047.7" font-size="21" font-weight="bold" font-style="normal" text-anchor="middle" fill="#111" >51.85</text>
<line x1="1297.2" y1="1059.7" x2="1336.0" y2="1059.7" stroke="#444" stroke-opacity="0.5" stroke-width="1.8"/>
<text x="1369.2" y="1066.3" font-size="21" font-weight="bold" font-style="normal" text-anchor="middle" fill="#111" >10.00</text>
<line x1="1297.2" y1="1078.3" x2="1336.0" y2="1078.3" stroke="#444" stroke-opacity="0.5" stroke-width="1.8"/>
<text x="1369.2" y="1084.9" font-size="21" font-weight="bold" font-style="normal" text-anchor="middle" fill="#111" >9.17</text>
<line x1="1297.2" y1="1096.9" x2="1336.0" y2="1096.9" stroke="#444" stroke-opacity="0.5" stroke-width="1.8"/>
<text x="1369.2" y="1103.5" font-size="21" font-weight="bold" font-style="normal" text-anchor="middle" fill="#111" >8.33</text>
<line x1="1297.2" y1="1115.5" x2="1336.0" y2="1115.5" stroke="#444" stroke-opacity="0.5" stroke-width="1.8"/>
<text x="1369.2" y="1122.1" font-size="21" font-weight="bold" font-style="normal" text-anchor="middle" fill="#111" >7.50</text>
<line x1="1297.2" y1="1134.1" x2="1336.0" y2="1134.1" stroke="#444" stroke-opacity="0.5" stroke-width="1.8"/>
<text x="1369.2" y="1140.7" font-size="21" font-weight="bold" font-style="normal" text-anchor="middle" fill="#111" >6.67</text>
<line x1="1297.2" y1="1152.7" x2="1336.0" y2="1152.7" stroke="#444" stroke-opacity="0.5" stroke-width="1.8"/>
<text x="1369.2" y="1159.3" font-size="21" font-weight="bold" font-style="normal" text-anchor="middle" fill="#111" >5.83</text>
<line x1="1297.2" y1="1171.3" x2="1336.0" y2="1171.3" stroke="#444" stroke-opacity="0.5" stroke-width="1.8"/>
<text x="1369.2" y="1177.9" font-size="21" font-weight="bold" font-style="normal" text-anchor="middle" fill="#111" >5.00</text>
<line x1="1297.2" y1="1189.9" x2="1336.0" y2="1189.9" stroke="#444" stroke-opacity="0.5" stroke-width="1.8"/>
<text x="1369.2" y="1196.5" font-size="21" font-weight="bold" font-style="normal" text-anchor="middle" fill="#111" >4.17</text>
<line x1="1297.2" y1="1208.5" x2="1336.0" y2="1208.5" stroke="#444" stroke-opacity="0.5" stroke-width="1.8"/>
<text x="1369.2" y="1215.1" font-size="21" font-weight="bold" font-style="normal" text-anchor="middle" fill="#111" >3.33</text>
<line x1="1297.2" y1="1227.1" x2="1336.0" y2="1227.1" stroke="#444" stroke-opacity="0.5" stroke-width="1.8"/>
<text x="1369.2" y="1233.7" font-size="21" font-weight="bold" font-style="normal" text-anchor="middle" fill="#111" >2.50</text>
<line x1="1297.2" y1="1245.7" x2="1336.0" y2="1245.7" stroke="#444" stroke-opacity="0.5" stroke-width="1.8"/>
<text x="1369.2" y="1252.3" font-size="21" font-weight="bold" font-style="normal" text-anchor="middle" fill="#111" >1.67</text>
<line x1="1297.2" y1="1264.3" x2="1336.0" y2="1264.3" stroke="#444" stroke-opacity="0.5" stroke-width="1.8"/>
<text x="1369.2" y="1270.9" font-size="21" font-weight="bold" font-style="normal" text-anchor="middle" fill="#111" >0.83</text>
<line x1="1297.2" y1="1282.9" x2="1336.0" y2="1282.9" stroke="#444" stroke-opacity="0.5" stroke-width="1.8"/>
<text x="1369.2" y="1289.5" font-size="21" font-weight="bold" font-style="normal" text-anchor="middle" fill="#111" >0.00</text>
<text x="1351.5" y="1028.0" font-size="21.5" font-weight="bold" font-style="normal" text-anchor="middle" fill="#222" >(Avg: 75%)</text>
<text transform="translate(1301.5,1001.3) scale(1.16,1)" font-size="52" font-style="italic" font-weight="normal" fill="#111" stroke="#111" stroke-width="1.1">ε</text>
<rect x="1305" y="966.0" width="30" height="3.8" fill="#333"/>
<text x="1337.5" y="977.9" font-size="31" font-weight="bold" font-style="normal" text-anchor="start" fill="#111" >p</text>
<text fill="#fff"><tspan x="1546.0" y="1179.6" font-size="66" font-style="italic" font-weight="bold" stroke="#0000ff" stroke-width="1.6">h</tspan><tspan x="1578.5" y="1194.6" font-size="41" font-style="normal" font-weight="bold" stroke="#0000ff" stroke-width="1.2">g</tspan><tspan x="1620.0" y="1179.6" font-size="68" font-style="normal" font-weight="normal" stroke="#ffffff" stroke-width="1.0">=</tspan><tspan x="1675.0" y="1179.6" font-size="66" font-style="normal" font-weight="bold" stroke="#0000ff" stroke-width="0.9">75</tspan><tspan x="1761.0" y="1179.6" font-size="66" font-style="normal" font-weight="bold" stroke="#0000ff" stroke-width="0.9">µm,</tspan><tspan x="1898.0" y="1179.6" font-size="66" font-style="italic" font-weight="normal" stroke="#ffffff" stroke-width="1.0">ε</tspan><tspan x="1930.5" y="1196.6" font-size="41" font-style="normal" font-weight="bold" stroke="#0000ff" stroke-width="1.2">u</tspan><tspan x="1972.0" y="1179.6" font-size="68" font-style="normal" font-weight="normal" stroke="#ffffff" stroke-width="1.0">=</tspan><tspan x="2024.5" y="1179.6" font-size="66" font-style="normal" font-weight="bold" stroke="#0000ff" stroke-width="0.9">27.37%</tspan></text>
<text x="1468.5" y="1337.0" font-size="104" font-weight="normal" font-style="normal" text-anchor="start" fill="#fff" stroke="#fff" stroke-width="1.2">d</text>
<polygon points="1443.8,1403.3 1493.0,1401.1 1525.2,1416.5 1679.0,1396.0 1715.7,1420.9 1750.0,1416.5 1849.9,1401.1 1883.6,1415.0 1954.0,1404.0 2002.3,1425.3 2058.6,1415.8 2105.5,1412.1 2212.5,1412.1 2224.0,1412.0 2240.3,1396.7 2281.5,1397.5 2281.5,1830.8 1443.8,1830.8" fill="#0000ff"/>
<path d="M1493.0,1401.8L1654.2,1515.4M1452.0,1464.0L1491.5,1434.8M1452.0,1464.0L1510.6,1505.0M1443.2,1473.0L1474.0,1499.3M1679.0,1396.7L1848.4,1524.2M1756.0,1472.0L1770.0,1496.0M1851.4,1399.7L2005.2,1512.5M1923.0,1464.0L1950.0,1498.0M1955.4,1404.8L2111.4,1522.7M2070.0,1505.0L2095.0,1525.0M2117.2,1521.3L2240.3,1396.7M2105.5,1411.4L2162.6,1461.2" stroke="#000c18" stroke-width="5.6" stroke-linecap="round" fill="none"/>
<path d="M1488.6,1449.5L1542.8,1494.9M1443.5,1450.0L1456.0,1442.0M2019.0,1420.2L2036.6,1433.4M2048.4,1430.4L2063.0,1415.8" stroke="#000818" stroke-width="5" stroke-linecap="round" fill="none"/>
<path d="M1452.0,1464.0L1491.5,1434.8M1452.0,1464.0L1510.6,1505.0M1443.2,1473.0L1474.0,1499.3M1756.0,1472.0L1770.0,1496.0M1923.0,1464.0L1950.0,1498.0M2070.0,1505.0L2095.0,1525.0M2105.5,1411.4L2162.6,1461.2" stroke="#0050d8" stroke-width="2.2" fill="none"/>
<path d="M1493.0,1401.8L1654.2,1515.4M1679.0,1396.7L1848.4,1524.2M1851.4,1399.7L2005.2,1512.5M1955.4,1404.8L2111.4,1522.7M2117.2,1521.3L2240.3,1396.7" stroke="#00e896" stroke-width="2.2" fill="none"/>
<rect x="1299.7" y="1507.0" width="27.3" height="18.9" fill="#c8c8c8"/>
<rect x="1299.7" y="1525.6" width="27.3" height="18.9" fill="#ff0000"/>
<rect x="1299.7" y="1544.2" width="27.3" height="18.9" fill="#ff5d00"/>
<rect x="1299.7" y="1562.8" width="27.3" height="18.9" fill="#ffb900"/>
<rect x="1299.7" y="1581.4" width="27.3" height="18.9" fill="#e8ff00"/>
<rect x="1299.7" y="1600.0" width="27.3" height="18.9" fill="#8bff00"/>
<rect x="1299.7" y="1618.6" width="27.3" height="18.9" fill="#2eff00"/>
<rect x="1299.7" y="1637.2" width="27.3" height="18.9" fill="#00ff2e"/>
<rect x="1299.7" y="1655.8" width="27.3" height="18.9" fill="#00ff8b"/>
<rect x="1299.7" y="1674.4" width="27.3" height="18.9" fill="#00ffe8"/>
<rect x="1299.7" y="1693.0" width="27.3" height="18.9" fill="#00b9ff"/>
<rect x="1299.7" y="1711.6" width="27.3" height="18.9" fill="#005dff"/>
<rect x="1299.7" y="1730.2" width="27.3" height="18.9" fill="#0000ff"/>
<line x1="1297.2" y1="1507.0" x2="1336.0" y2="1507.0" stroke="#444" stroke-opacity="0.5" stroke-width="1.8"/>
<text x="1369.2" y="1513.6" font-size="21" font-weight="bold" font-style="normal" text-anchor="middle" fill="#111" >21.88</text>
<line x1="1297.2" y1="1525.6" x2="1336.0" y2="1525.6" stroke="#444" stroke-opacity="0.5" stroke-width="1.8"/>
<text x="1369.2" y="1532.2" font-size="21" font-weight="bold" font-style="normal" text-anchor="middle" fill="#111" >10.00</text>
<line x1="1297.2" y1="1544.2" x2="1336.0" y2="1544.2" stroke="#444" stroke-opacity="0.5" stroke-width="1.8"/>
<text x="1369.2" y="1550.8" font-size="21" font-weight="bold" font-style="normal" text-anchor="middle" fill="#111" >9.17</text>
<line x1="1297.2" y1="1562.8" x2="1336.0" y2="1562.8" stroke="#444" stroke-opacity="0.5" stroke-width="1.8"/>
<text x="1369.2" y="1569.4" font-size="21" font-weight="bold" font-style="normal" text-anchor="middle" fill="#111" >8.33</text>
<line x1="1297.2" y1="1581.4" x2="1336.0" y2="1581.4" stroke="#444" stroke-opacity="0.5" stroke-width="1.8"/>
<text x="1369.2" y="1588.0" font-size="21" font-weight="bold" font-style="normal" text-anchor="middle" fill="#111" >7.50</text>
<line x1="1297.2" y1="1600.0" x2="1336.0" y2="1600.0" stroke="#444" stroke-opacity="0.5" stroke-width="1.8"/>
<text x="1369.2" y="1606.6" font-size="21" font-weight="bold" font-style="normal" text-anchor="middle" fill="#111" >6.67</text>
<line x1="1297.2" y1="1618.6" x2="1336.0" y2="1618.6" stroke="#444" stroke-opacity="0.5" stroke-width="1.8"/>
<text x="1369.2" y="1625.2" font-size="21" font-weight="bold" font-style="normal" text-anchor="middle" fill="#111" >5.83</text>
<line x1="1297.2" y1="1637.2" x2="1336.0" y2="1637.2" stroke="#444" stroke-opacity="0.5" stroke-width="1.8"/>
<text x="1369.2" y="1643.8" font-size="21" font-weight="bold" font-style="normal" text-anchor="middle" fill="#111" >5.00</text>
<line x1="1297.2" y1="1655.8" x2="1336.0" y2="1655.8" stroke="#444" stroke-opacity="0.5" stroke-width="1.8"/>
<text x="1369.2" y="1662.4" font-size="21" font-weight="bold" font-style="normal" text-anchor="middle" fill="#111" >4.17</text>
<line x1="1297.2" y1="1674.4" x2="1336.0" y2="1674.4" stroke="#444" stroke-opacity="0.5" stroke-width="1.8"/>
<text x="1369.2" y="1681.0" font-size="21" font-weight="bold" font-style="normal" text-anchor="middle" fill="#111" >3.33</text>
<line x1="1297.2" y1="1693.0" x2="1336.0" y2="1693.0" stroke="#444" stroke-opacity="0.5" stroke-width="1.8"/>
<text x="1369.2" y="1699.6" font-size="21" font-weight="bold" font-style="normal" text-anchor="middle" fill="#111" >2.50</text>
<line x1="1297.2" y1="1711.6" x2="1336.0" y2="1711.6" stroke="#444" stroke-opacity="0.5" stroke-width="1.8"/>
<text x="1369.2" y="1718.2" font-size="21" font-weight="bold" font-style="normal" text-anchor="middle" fill="#111" >1.67</text>
<line x1="1297.2" y1="1730.2" x2="1336.0" y2="1730.2" stroke="#444" stroke-opacity="0.5" stroke-width="1.8"/>
<text x="1369.2" y="1736.8" font-size="21" font-weight="bold" font-style="normal" text-anchor="middle" fill="#111" >0.83</text>
<line x1="1297.2" y1="1748.8" x2="1336.0" y2="1748.8" stroke="#444" stroke-opacity="0.5" stroke-width="1.8"/>
<text x="1369.2" y="1755.4" font-size="21" font-weight="bold" font-style="normal" text-anchor="middle" fill="#111" >0.00</text>
<text x="1351.5" y="1492.2" font-size="21.5" font-weight="bold" font-style="normal" text-anchor="middle" fill="#222" >(Avg: 75%)</text>
<text transform="translate(1301.5,1466.0) scale(1.16,1)" font-size="52" font-style="italic" font-weight="normal" fill="#111" stroke="#111" stroke-width="1.1">ε</text>
<rect x="1305" y="1430.7" width="30" height="3.8" fill="#333"/>
<text x="1337.5" y="1442.6" font-size="31" font-weight="bold" font-style="normal" text-anchor="start" fill="#111" >p</text>
<text fill="#fff"><tspan x="1530.5" y="1659.6" font-size="66" font-style="italic" font-weight="bold" stroke="#0000ff" stroke-width="1.6">h</tspan><tspan x="1563.0" y="1674.6" font-size="41" font-style="normal" font-weight="bold" stroke="#0000ff" stroke-width="1.2">g</tspan><tspan x="1604.5" y="1659.6" font-size="68" font-style="normal" font-weight="normal" stroke="#ffffff" stroke-width="1.0">=</tspan><tspan x="1657.5" y="1659.6" font-size="66" font-style="normal" font-weight="bold" stroke="#0000ff" stroke-width="0.9">100</tspan><tspan x="1775.0" y="1659.6" font-size="66" font-style="normal" font-weight="bold" stroke="#0000ff" stroke-width="0.9">µm,</tspan><tspan x="1912.0" y="1659.6" font-size="66" font-style="italic" font-weight="normal" stroke="#ffffff" stroke-width="1.0">ε</tspan><tspan x="1944.5" y="1676.6" font-size="41" font-style="normal" font-weight="bold" stroke="#0000ff" stroke-width="1.2">u</tspan><tspan x="1986.0" y="1659.6" font-size="68" font-style="normal" font-weight="normal" stroke="#ffffff" stroke-width="1.0">=</tspan><tspan x="2038.5" y="1659.6" font-size="66" font-style="normal" font-weight="bold" stroke="#0000ff" stroke-width="0.9">22.31%</tspan></text>
<text x="1470.0" y="1806.0" font-size="104" font-weight="normal" font-style="normal" text-anchor="start" fill="#fff" stroke="#fff" stroke-width="1.2">e</text>
<g fill="none" stroke="#000" stroke-width="11" stroke-dasharray="32.4 11.05">
<path d="M1310.6,31.4 H2343.5 A55,55 0 0 1 2398.5,86.4 V1790.2 A55,55 0 0 1 2343.5,1845.2 H1310.6" stroke-dashoffset="4.6"/>
<path d="M1312.6,31.4 H1310.6 A55,55 0 0 0 1255.6,86.4 V1790.2 A55,55 0 0 0 1307.6,1845.1000000000001" stroke-dashoffset="25.8"/>
<path d="M1255.6,473.3 H2404.0"/>
<path d="M1255.6,927.0 H2404.0"/>
<path d="M1255.6,1382.7 H2404.0"/>
</g>
</g>
</svg></body></html>
